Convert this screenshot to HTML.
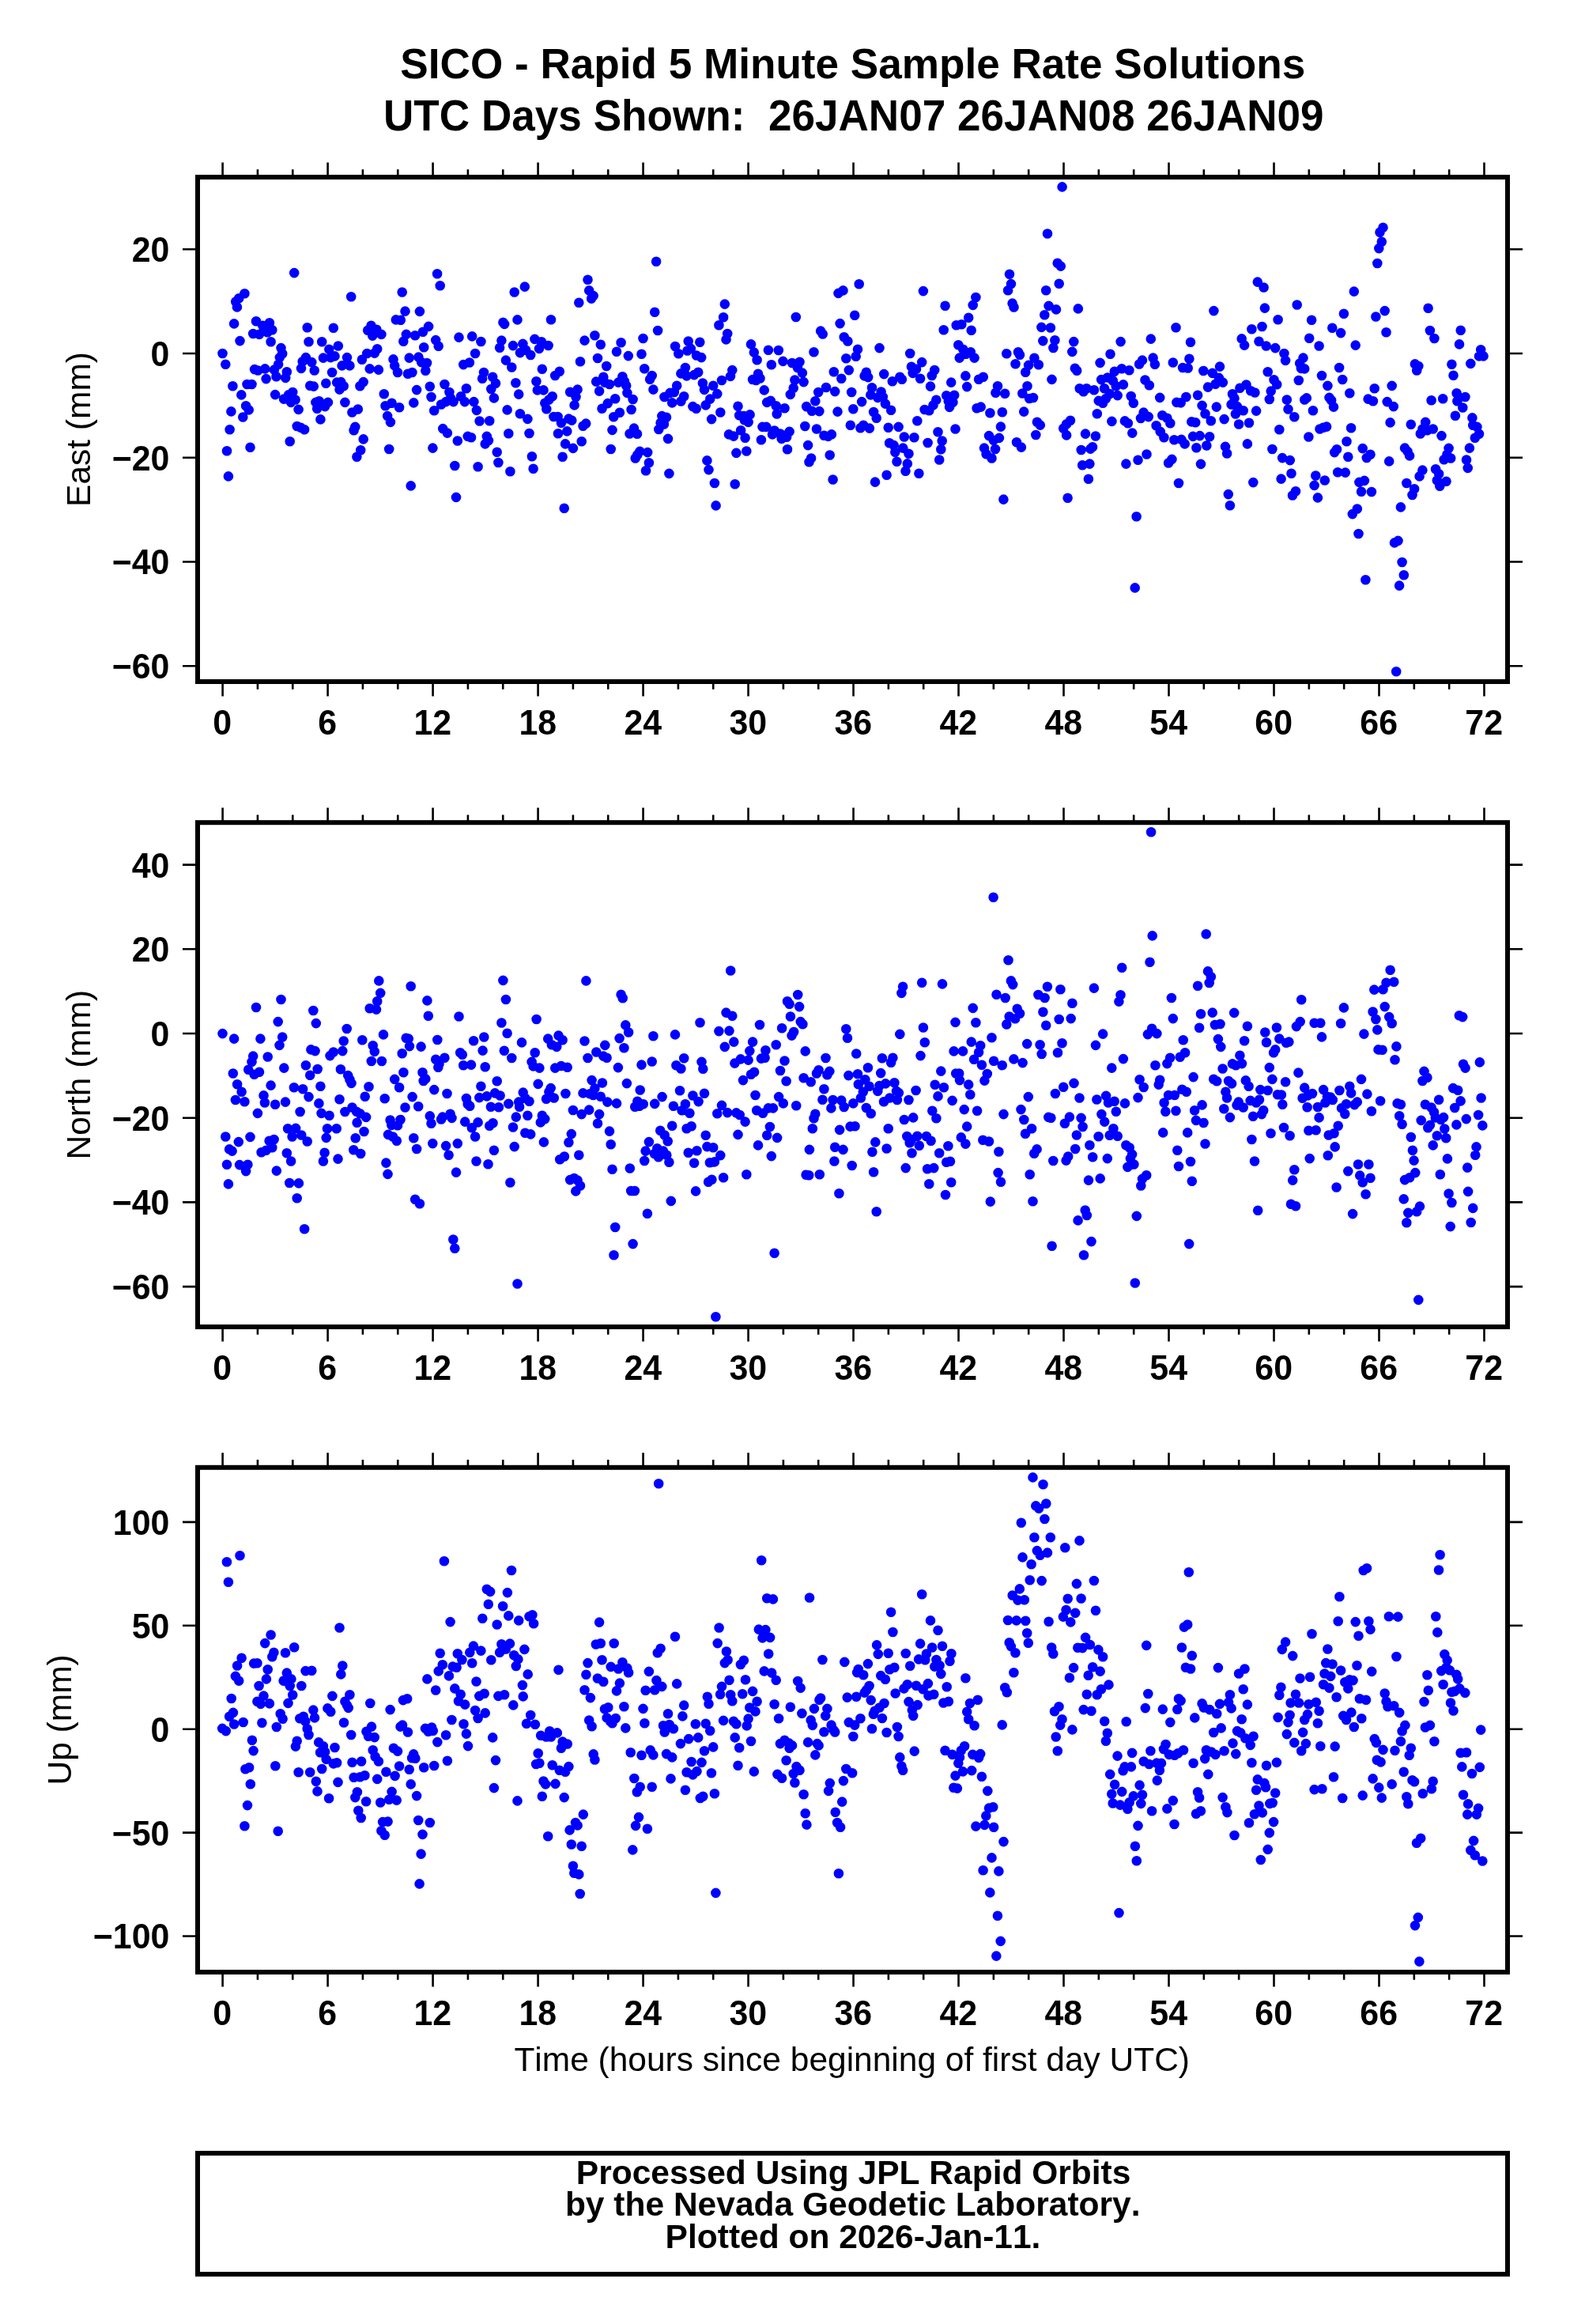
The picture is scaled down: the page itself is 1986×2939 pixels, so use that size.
<!DOCTYPE html>
<html><head><meta charset="utf-8"><title>SICO</title>
<style>
html,body{margin:0;padding:0;background:#fff;}
svg{display:block;will-change:transform;}
text{font-kerning:none;font-family:"Liberation Sans",sans-serif;fill:#000;}
.b{font-weight:bold;}
</style></head><body>
<svg width="1986" height="2939" viewBox="0 0 1986 2939">
<rect width="1986" height="2939" fill="#fff"/>
<text class="b" transform="translate(1078.80 98.90) scale(1 1.02)" font-size="53.12" text-anchor="middle">SICO - Rapid 5 Minute Sample Rate Solutions</text>
<text class="b" transform="translate(1079.80 165.20) scale(1 1.035)" font-size="53.12" text-anchor="middle" xml:space="preserve">UTC Days Shown:  26JAN07 26JAN08 26JAN09</text>
<clipPath id="c0"><rect x="250.0" y="224.0" width="1657.0" height="638.0"/></clipPath>
<path clip-path="url(#c0)" d="M281.5 447.0h.01M285.3 460.7h.01M296.1 409.4h.01M299.9 388.4h.01M298.2 381.5h.01M302.2 377.2h.01M309.4 371.2h.01M303.5 431.1h.01M294.4 488.3h.01M305.3 499.4h.01M292.4 520.4h.01M290.6 543.3h.01M287.0 570.2h.01M288.9 602.4h.01M311.1 513.2h.01M314.7 518.4h.01M307.3 527.5h.01M316.5 565.7h.01M312.5 486.0h.01M318.5 486.0h.01M320.2 422.0h.01M324.0 406.2h.01M328.0 422.9h.01M332.3 411.7h.01M340.9 408.2h.01M344.3 417.2h.01M338.3 420.3h.01M342.6 432.3h.01M322.0 467.1h.01M326.3 468.5h.01M335.2 466.4h.01M336.6 479.1h.01M355.5 440.1h.01M357.2 447.3h.01M353.8 452.1h.01M352.1 460.7h.01M346.9 467.6h.01M349.5 476.2h.01M362.8 470.2h.01M361.2 477.9h.01M348.1 499.1h.01M359.0 504.6h.01M365.0 499.4h.01M370.2 496.0h.01M373.6 505.5h.01M368.1 508.9h.01M377.6 517.9h.01M372.2 345.1h.01M366.7 558.3h.01M375.7 539.0h.01M380.5 540.8h.01M385.1 543.3h.01M388.7 414.3h.01M390.5 432.3h.01M386.9 452.1h.01M382.7 457.3h.01M381.0 465.9h.01M394.3 458.1h.01M397.7 468.5h.01M392.2 487.7h.01M396.8 488.6h.01M399.4 508.9h.01M403.7 507.2h.01M401.1 516.7h.01M405.4 530.4h.01M411.1 514.1h.01M414.9 508.9h.01M407.2 432.3h.01M408.9 452.6h.01M416.3 441.8h.01M418.3 452.1h.01M423.5 450.4h.01M421.8 414.8h.01M427.8 437.5h.01M420.1 471.0h.01M412.3 484.8h.01M426.1 483.6h.01M431.3 483.1h.01M434.7 488.3h.01M429.5 492.6h.01M432.6 462.4h.01M439.0 452.1h.01M442.4 462.4h.01M436.4 508.9h.01M444.2 375.2h.01M445.4 521.5h.01M452.8 517.5h.01M449.3 539.9h.01M447.6 544.2h.01M455.4 488.3h.01M457.9 454.7h.01M459.7 483.1h.01M451.4 577.8h.01M456.2 569.2h.01M459.7 555.4h.01M469.5 411.7h.01M465.2 417.7h.01M471.2 424.6h.01M476.4 416.8h.01M482.4 422.9h.01M477.2 441.3h.01M473.8 446.6h.01M464.3 447.0h.01M467.7 466.4h.01M478.9 467.6h.01M485.8 498.2h.01M487.5 513.2h.01M495.6 509.8h.01M505.1 515.3h.01M490.1 526.1h.01M493.9 533.9h.01M492.2 568.0h.01M508.7 369.5h.01M512.5 393.6h.01M500.8 404.4h.01M506.8 404.8h.01M530.9 393.9h.01M513.9 422.9h.01M510.3 431.8h.01M525.1 424.2h.01M534.9 419.8h.01M542.1 412.9h.01M536.2 439.2h.01M497.5 454.4h.01M499.2 462.4h.01M503.0 471.0h.01M517.7 452.6h.01M529.4 451.6h.01M533.1 458.1h.01M540.0 459.0h.01M538.3 468.8h.01M515.9 472.8h.01M521.4 471.0h.01M527.1 493.1h.01M523.3 509.4h.01M519.7 614.4h.01M543.8 488.8h.01M545.5 502.0h.01M549.2 519.2h.01M547.4 566.6h.01M553.1 346.3h.01M556.7 361.2h.01M551.2 430.1h.01M554.7 437.8h.01M562.4 486.0h.01M568.4 496.0h.01M558.1 511.5h.01M564.1 508.1h.01M570.2 503.8h.01M573.6 508.1h.01M560.2 542.1h.01M565.9 547.6h.01M578.8 557.5h.01M575.3 589.0h.01M577.0 628.9h.01M580.5 426.6h.01M586.2 461.1h.01M593.9 458.5h.01M589.9 491.2h.01M583.1 501.2h.01M587.9 508.1h.01M591.7 551.9h.01M596.0 553.3h.01M597.2 425.4h.01M601.1 447.0h.01M608.4 432.0h.01M599.4 508.1h.01M602.9 518.9h.01M606.6 532.5h.01M604.6 590.3h.01M612.0 471.0h.01M610.1 478.8h.01M623.2 476.7h.01M627.0 484.8h.01M621.3 492.0h.01M624.9 503.4h.01M619.2 532.2h.01M615.8 551.9h.01M618.0 557.1h.01M613.7 561.4h.01M628.7 571.7h.01M630.4 585.0h.01M634.4 430.6h.01M632.1 439.7h.01M636.4 407.7h.01M638.1 409.9h.01M639.9 455.6h.01M647.3 464.5h.01M641.6 518.4h.01M643.3 548.2h.01M645.4 596.2h.01M650.7 369.5h.01M654.5 404.4h.01M649.0 437.1h.01M652.4 484.3h.01M656.2 498.6h.01M657.9 523.2h.01M657.9 446.1h.01M663.8 362.6h.01M661.4 434.9h.01M665.2 442.7h.01M671.2 449.0h.01M676.4 428.9h.01M685.0 432.3h.01M682.0 440.9h.01M693.6 437.0h.01M697.0 404.3h.01M685.8 466.7h.01M678.4 482.2h.01M679.8 493.4h.01M687.5 493.4h.01M698.7 501.2h.01M694.4 505.5h.01M689.3 509.8h.01M691.3 517.2h.01M667.4 529.9h.01M669.5 548.0h.01M672.9 577.2h.01M674.6 592.7h.01M707.8 469.8h.01M702.2 475.0h.01M700.4 527.0h.01M705.6 527.0h.01M709.9 534.7h.01M719.4 529.6h.01M723.3 531.6h.01M717.3 545.4h.01M706.0 548.2h.01M715.1 561.4h.01M724.9 566.9h.01M711.6 577.8h.01M713.7 642.7h.01M721.1 495.7h.01M730.6 492.6h.01M728.5 502.0h.01M726.6 512.4h.01M734.0 457.3h.01M739.5 430.6h.01M732.3 382.8h.01M743.5 353.7h.01M745.2 367.4h.01M750.7 374.1h.01M748.1 377.6h.01M741.2 535.6h.01M737.5 538.7h.01M735.7 558.3h.01M752.4 424.2h.01M759.8 435.8h.01M756.0 453.0h.01M767.2 463.0h.01M763.3 476.7h.01M754.1 482.6h.01M765.0 483.6h.01M771.0 486.0h.01M758.1 494.6h.01M761.5 516.7h.01M768.8 510.1h.01M778.2 504.3h.01M776.2 527.3h.01M783.9 521.8h.01M774.5 543.9h.01M772.7 568.0h.01M780.0 444.7h.01M785.6 433.2h.01M794.8 450.1h.01M787.4 476.2h.01M782.2 483.6h.01M789.9 482.2h.01M792.2 487.7h.01M793.4 496.9h.01M800.6 505.0h.01M798.6 518.0h.01M802.0 541.6h.01M796.5 548.5h.01M806.0 548.8h.01M809.4 570.9h.01M803.7 579.5h.01M806.3 575.2h.01M819.2 572.1h.01M820.9 585.2h.01M817.0 595.3h.01M813.5 428.0h.01M811.5 447.8h.01M815.2 466.2h.01M824.7 475.0h.01M822.1 479.7h.01M826.4 492.6h.01M828.2 394.8h.01M832.1 418.0h.01M830.1 330.8h.01M837.3 526.1h.01M843.0 527.8h.01M835.6 534.7h.01M839.9 536.5h.01M833.3 543.0h.01M845.0 554.9h.01M846.4 598.9h.01M840.4 502.0h.01M847.6 496.9h.01M852.8 496.0h.01M850.2 509.4h.01M856.2 487.7h.01M854.1 438.0h.01M858.3 447.3h.01M866.9 465.0h.01M861.4 472.4h.01M868.6 475.4h.01M865.2 501.2h.01M861.4 507.5h.01M870.7 431.5h.01M873.8 440.9h.01M869.5 443.5h.01M885.3 432.7h.01M881.0 449.5h.01M887.2 452.1h.01M883.2 470.7h.01M878.1 474.1h.01M888.9 484.5h.01M891.0 492.9h.01M876.4 514.1h.01M880.7 516.7h.01M902.2 487.7h.01M907.3 498.1h.01M898.2 504.6h.01M892.7 512.4h.01M911.3 521.5h.01M900.1 530.1h.01M894.4 582.4h.01M896.5 594.1h.01M903.9 611.0h.01M905.6 639.4h.01M913.0 481.0h.01M924.0 475.9h.01M926.3 468.1h.01M916.8 384.6h.01M915.1 401.3h.01M909.4 411.3h.01M920.2 422.0h.01M918.5 429.4h.01M929.7 612.2h.01M933.5 513.7h.01M935.2 525.3h.01M940.9 526.1h.01M948.6 524.4h.01M941.8 531.3h.01M946.6 533.9h.01M937.1 544.2h.01M922.0 549.4h.01M928.0 551.6h.01M942.6 553.7h.01M931.4 572.9h.01M944.3 570.5h.01M950.0 435.4h.01M953.8 445.6h.01M957.6 455.2h.01M959.0 472.8h.01M952.1 480.0h.01M956.4 481.0h.01M961.5 478.5h.01M966.7 493.4h.01M971.9 442.7h.01M975.8 461.2h.01M970.2 508.9h.01M974.8 506.9h.01M981.7 513.2h.01M982.7 523.5h.01M992.5 516.3h.01M964.5 539.9h.01M969.3 539.9h.01M962.9 556.2h.01M979.6 544.5h.01M977.0 549.4h.01M987.0 548.5h.01M988.7 554.9h.01M995.1 552.8h.01M998.6 545.9h.01M996.0 568.3h.01M984.8 443.0h.01M990.5 456.9h.01M1002.0 459.0h.01M1011.5 457.8h.01M1008.9 465.0h.01M1014.9 471.6h.01M1005.4 480.5h.01M1016.6 483.1h.01M1003.7 490.8h.01M999.8 498.9h.01M1006.8 401.0h.01M1029.5 445.2h.01M1038.1 418.6h.01M1040.7 422.5h.01M1020.1 514.1h.01M1027.0 519.8h.01M1036.4 520.1h.01M1031.3 507.2h.01M1035.2 496.0h.01M1045.0 490.0h.01M1018.3 539.0h.01M1033.0 542.5h.01M1022.1 563.1h.01M1026.1 579.5h.01M1023.5 584.3h.01M1042.4 550.7h.01M1047.6 551.9h.01M1051.9 549.4h.01M1049.7 575.5h.01M1053.6 606.5h.01M1054.8 470.2h.01M1056.2 495.1h.01M1060.5 370.9h.01M1066.5 367.4h.01M1086.7 359.2h.01M1062.6 409.1h.01M1081.2 398.8h.01M1067.7 426.3h.01M1072.4 431.5h.01M1085.0 441.8h.01M1082.7 450.7h.01M1070.3 453.3h.01M1073.8 468.1h.01M1064.3 478.8h.01M1077.2 496.0h.01M1059.5 520.6h.01M1079.3 517.2h.01M1090.1 508.1h.01M1075.8 537.8h.01M1088.4 541.3h.01M1092.2 537.7h.01M1099.9 541.6h.01M1095.8 470.7h.01M1093.6 475.4h.01M1098.2 477.1h.01M1103.0 490.3h.01M1101.3 499.4h.01M1114.6 495.5h.01M1110.3 502.9h.01M1116.8 502.0h.01M1119.9 510.6h.01M1127.1 518.7h.01M1105.1 521.0h.01M1108.7 528.7h.01M1112.5 440.1h.01M1118.2 473.1h.01M1128.8 482.2h.01M1138.3 476.7h.01M1140.9 479.7h.01M1123.7 540.8h.01M1136.6 539.9h.01M1143.8 552.5h.01M1156.4 553.3h.01M1125.1 560.2h.01M1130.6 563.1h.01M1132.3 571.7h.01M1142.3 566.6h.01M1149.5 573.8h.01M1134.5 583.8h.01M1147.8 586.4h.01M1145.5 595.8h.01M1162.4 598.8h.01M1121.6 600.7h.01M1107.0 609.6h.01M1151.2 447.0h.01M1152.9 463.8h.01M1159.0 466.7h.01M1154.7 471.9h.01M1166.2 458.1h.01M1164.1 478.8h.01M1160.3 532.2h.01M1167.9 368.1h.01M1182.2 468.0h.01M1178.8 475.0h.01M1177.0 488.6h.01M1184.3 505.8h.01M1180.5 512.4h.01M1169.6 518.0h.01M1175.3 519.2h.01M1173.6 560.0h.01M1186.5 546.3h.01M1191.7 557.5h.01M1190.3 568.3h.01M1188.2 581.5h.01M1195.6 386.7h.01M1193.7 417.3h.01M1203.2 483.6h.01M1197.2 500.3h.01M1207.2 499.8h.01M1199.8 507.2h.01M1205.4 508.9h.01M1201.1 514.9h.01M1208.5 542.5h.01M1209.7 411.2h.01M1216.3 410.3h.01M1225.2 401.7h.01M1228.7 417.7h.01M1230.7 385.9h.01M1234.4 376.0h.01M1212.3 436.3h.01M1218.3 441.8h.01M1213.7 452.6h.01M1221.8 447.8h.01M1227.8 445.2h.01M1232.6 452.6h.01M1221.4 475.4h.01M1223.2 489.1h.01M1238.1 479.7h.01M1243.8 476.7h.01M1235.6 516.3h.01M1240.7 514.6h.01M1252.4 522.2h.01M1251.0 551.1h.01M1245.0 566.6h.01M1247.6 574.3h.01M1254.5 579.5h.01M1343.6 236.4h.01M1325.0 295.5h.01M1337.7 332.7h.01M1341.8 336.6h.01M1339.7 358.7h.01M1323.2 367.3h.01M1277.0 346.8h.01M1279.0 359.1h.01M1275.1 367.3h.01M1280.6 383.6h.01M1282.5 388.5h.01M1326.6 386.9h.01M1336.0 391.4h.01M1321.3 398.3h.01M1363.8 390.4h.01M1317.4 413.9h.01M1328.9 414.5h.01M1319.3 431.1h.01M1334.4 430.2h.01M1332.4 440.0h.01M1358.3 432.1h.01M1356.3 444.9h.01M1273.3 447.2h.01M1288.0 445.2h.01M1290.0 448.8h.01M1284.5 460.3h.01M1308.4 452.7h.01M1313.8 461.3h.01M1301.1 461.9h.01M1297.2 470.7h.01M1330.5 479.9h.01M1359.8 465.8h.01M1362.2 468.7h.01M1262.0 488.3h.01M1271.2 497.7h.01M1259.4 496.7h.01M1299.5 488.3h.01M1293.3 497.5h.01M1302.1 504.0h.01M1307.0 503.0h.01M1267.8 521.2h.01M1295.2 520.6h.01M1265.9 539.6h.01M1263.9 553.9h.01M1259.0 568.0h.01M1311.9 533.7h.01M1315.8 537.6h.01M1310.3 550.0h.01M1286.0 559.2h.01M1291.9 565.6h.01M1269.4 631.6h.01M1350.6 629.7h.01M1354.0 531.8h.01M1349.1 536.3h.01M1345.2 541.8h.01M1349.1 550.4h.01M1365.7 491.2h.01M1370.6 495.2h.01M1374.5 491.2h.01M1383.9 493.2h.01M1373.0 548.6h.01M1385.9 551.5h.01M1382.0 565.3h.01M1379.4 567.6h.01M1367.7 569.0h.01M1369.2 588.2h.01M1378.4 586.6h.01M1376.9 605.8h.01M1391.6 458.9h.01M1404.5 447.8h.01M1417.6 432.1h.01M1393.1 480.1h.01M1401.0 477.5h.01M1409.8 469.7h.01M1419.0 466.2h.01M1428.4 468.3h.01M1407.8 481.5h.01M1397.0 491.2h.01M1411.7 488.3h.01M1420.9 486.4h.01M1403.9 498.1h.01M1413.7 500.1h.01M1399.0 504.0h.01M1389.8 506.9h.01M1395.1 509.8h.01M1387.8 523.2h.01M1406.4 532.9h.01M1422.9 532.4h.01M1426.8 535.3h.01M1432.3 547.6h.01M1430.7 501.0h.01M1433.8 509.8h.01M1424.4 586.6h.01M1439.5 581.7h.01M1450.5 574.5h.01M1437.6 653.3h.01M1445.0 455.6h.01M1441.1 460.5h.01M1455.8 428.6h.01M1448.5 480.5h.01M1453.8 487.3h.01M1446.6 521.6h.01M1443.0 529.0h.01M1452.8 527.1h.01M1458.6 452.6h.01M1460.9 460.7h.01M1467.2 502.9h.01M1462.6 538.2h.01M1467.7 545.9h.01M1472.4 553.3h.01M1470.3 525.3h.01M1476.4 528.7h.01M1480.3 535.2h.01M1487.5 414.3h.01M1483.8 458.5h.01M1506.0 432.7h.01M1504.4 453.8h.01M1496.1 465.0h.01M1502.7 465.5h.01M1500.4 502.0h.01M1488.4 508.9h.01M1493.6 509.4h.01M1485.3 556.2h.01M1494.4 555.9h.01M1498.7 561.4h.01M1482.4 580.9h.01M1478.1 585.5h.01M1491.0 611.0h.01M1515.1 499.8h.01M1520.6 512.9h.01M1524.5 523.2h.01M1531.8 532.2h.01M1507.3 533.4h.01M1512.2 534.2h.01M1509.1 551.9h.01M1517.7 551.1h.01M1530.1 552.3h.01M1513.4 566.2h.01M1526.3 563.5h.01M1519.0 586.9h.01M1522.3 469.0h.01M1533.7 471.9h.01M1543.0 463.6h.01M1541.8 477.9h.01M1546.9 483.6h.01M1537.5 485.7h.01M1528.0 489.6h.01M1538.8 514.6h.01M1535.4 393.1h.01M1548.6 530.1h.01M1550.0 564.9h.01M1552.1 573.5h.01M1553.8 625.1h.01M1555.9 639.2h.01M1559.0 498.2h.01M1561.5 503.8h.01M1557.6 511.5h.01M1565.0 514.1h.01M1572.7 519.2h.01M1562.9 523.5h.01M1567.1 536.5h.01M1580.0 534.7h.01M1568.4 490.8h.01M1576.5 486.5h.01M1582.2 494.3h.01M1587.4 496.5h.01M1589.1 519.6h.01M1577.9 561.4h.01M1585.3 610.1h.01M1570.7 428.4h.01M1574.1 436.6h.01M1583.4 416.3h.01M1596.5 413.0h.01M1590.8 356.6h.01M1598.6 363.5h.01M1599.9 389.6h.01M1592.5 431.8h.01M1601.7 437.5h.01M1613.2 440.1h.01M1616.6 404.3h.01M1624.4 447.0h.01M1626.1 455.9h.01M1603.7 470.2h.01M1611.5 480.2h.01M1615.2 486.2h.01M1607.7 494.6h.01M1605.8 505.0h.01M1627.8 505.5h.01M1629.5 517.5h.01M1637.3 527.3h.01M1618.3 543.3h.01M1609.4 568.0h.01M1622.1 579.1h.01M1631.8 582.1h.01M1633.5 598.8h.01M1620.6 605.6h.01M1639.0 621.3h.01M1635.0 626.5h.01M1640.7 385.5h.01M1648.5 452.6h.01M1644.2 459.5h.01M1650.2 466.4h.01M1645.9 465.9h.01M1642.8 481.0h.01M1652.8 503.4h.01M1650.2 505.5h.01M1655.4 552.5h.01M1656.2 427.7h.01M1659.1 404.8h.01M1668.6 437.5h.01M1685.3 414.8h.01M1696.1 421.1h.01M1699.9 396.7h.01M1712.8 368.6h.01M1714.7 436.6h.01M1672.0 475.0h.01M1679.4 487.9h.01M1694.1 465.0h.01M1698.2 480.0h.01M1707.3 497.2h.01M1681.5 502.9h.01M1684.1 506.3h.01M1687.0 514.6h.01M1660.9 519.2h.01M1669.5 542.5h.01M1673.8 540.8h.01M1678.1 539.6h.01M1709.1 541.3h.01M1703.5 558.3h.01M1691.0 568.3h.01M1688.1 572.1h.01M1705.3 577.8h.01M1692.2 597.2h.01M1701.8 597.6h.01M1664.3 601.5h.01M1675.8 607.5h.01M1662.6 613.9h.01M1666.9 629.4h.01M1723.7 567.1h.01M1733.5 574.8h.01M1728.8 579.0h.01M1719.4 609.9h.01M1725.9 607.9h.01M1722.0 621.7h.01M1734.9 622.0h.01M1716.8 643.5h.01M1710.8 650.1h.01M1718.5 675.0h.01M1749.5 287.7h.01M1745.5 293.8h.01M1747.8 305.8h.01M1744.3 314.1h.01M1742.3 333.0h.01M1751.7 393.1h.01M1740.4 400.5h.01M1753.5 420.3h.01M1738.7 491.2h.01M1760.7 487.9h.01M1730.6 504.6h.01M1736.9 507.2h.01M1754.7 508.1h.01M1762.8 514.1h.01M1758.6 534.4h.01M1757.2 583.4h.01M1771.9 641.4h.01M1784.8 536.8h.01M1777.0 566.6h.01M1780.5 570.9h.01M1783.1 576.4h.01M1779.3 611.0h.01M1789.1 618.2h.01M1786.5 626.0h.01M1789.9 460.4h.01M1794.3 463.0h.01M1792.2 468.5h.01M1806.6 389.8h.01M1808.9 418.0h.01M1814.4 428.0h.01M1803.2 533.9h.01M1799.4 542.5h.01M1796.8 548.5h.01M1805.4 544.2h.01M1812.7 542.5h.01M1810.6 506.3h.01M1825.2 504.3h.01M1823.5 551.1h.01M1799.4 594.6h.01M1795.6 602.4h.01M1816.1 593.3h.01M1820.1 599.3h.01M1817.8 607.5h.01M1829.5 608.7h.01M1821.3 614.8h.01M1832.6 566.9h.01M1830.4 574.8h.01M1826.6 581.2h.01M1835.2 579.5h.01M1836.4 460.7h.01M1838.5 474.8h.01M1847.7 417.7h.01M1846.0 435.4h.01M1873.2 442.3h.01M1871.0 450.4h.01M1876.5 450.4h.01M1860.3 459.9h.01M1842.6 497.2h.01M1853.4 502.0h.01M1843.4 507.2h.01M1850.3 515.5h.01M1840.9 525.8h.01M1862.4 528.4h.01M1863.2 537.7h.01M1868.4 539.9h.01M1871.0 548.8h.01M1865.8 553.7h.01M1858.9 566.6h.01M1855.0 581.5h.01M1856.7 591.9h.01M1435.7 743.4h.01M1764.0 686.4h.01M1768.5 683.9h.01M1773.6 711.0h.01M1775.8 727.2h.01M1770.1 740.6h.01M1727.4 733.2h.01M1766.2 849.2h.01M1256.8 556.7h.01" stroke="#0000ff" stroke-width="12.6" stroke-linecap="round" fill="none"/>
<path d="M281.60 224.0v-18.6M281.60 862.0v18.6M325.93 224.0v-9.8M325.93 862.0v9.8M370.26 224.0v-9.8M370.26 862.0v9.8M414.59 224.0v-18.6M414.59 862.0v18.6M458.92 224.0v-9.8M458.92 862.0v9.8M503.25 224.0v-9.8M503.25 862.0v9.8M547.58 224.0v-18.6M547.58 862.0v18.6M591.91 224.0v-9.8M591.91 862.0v9.8M636.24 224.0v-9.8M636.24 862.0v9.8M680.57 224.0v-18.6M680.57 862.0v18.6M724.90 224.0v-9.8M724.90 862.0v9.8M769.23 224.0v-9.8M769.23 862.0v9.8M813.56 224.0v-18.6M813.56 862.0v18.6M857.89 224.0v-9.8M857.89 862.0v9.8M902.22 224.0v-9.8M902.22 862.0v9.8M946.55 224.0v-18.6M946.55 862.0v18.6M990.88 224.0v-9.8M990.88 862.0v9.8M1035.21 224.0v-9.8M1035.21 862.0v9.8M1079.54 224.0v-18.6M1079.54 862.0v18.6M1123.87 224.0v-9.8M1123.87 862.0v9.8M1168.20 224.0v-9.8M1168.20 862.0v9.8M1212.53 224.0v-18.6M1212.53 862.0v18.6M1256.86 224.0v-9.8M1256.86 862.0v9.8M1301.19 224.0v-9.8M1301.19 862.0v9.8M1345.52 224.0v-18.6M1345.52 862.0v18.6M1389.85 224.0v-9.8M1389.85 862.0v9.8M1434.18 224.0v-9.8M1434.18 862.0v9.8M1478.51 224.0v-18.6M1478.51 862.0v18.6M1522.84 224.0v-9.8M1522.84 862.0v9.8M1567.17 224.0v-9.8M1567.17 862.0v9.8M1611.50 224.0v-18.6M1611.50 862.0v18.6M1655.83 224.0v-9.8M1655.83 862.0v9.8M1700.16 224.0v-9.8M1700.16 862.0v9.8M1744.49 224.0v-18.6M1744.49 862.0v18.6M1788.82 224.0v-9.8M1788.82 862.0v9.8M1833.15 224.0v-9.8M1833.15 862.0v9.8M1877.48 224.0v-18.6M1877.48 862.0v18.6M250.0 315.26h-19M1907.0 315.26h19M250.0 447.00h-19M1907.0 447.00h19M250.0 578.74h-19M1907.0 578.74h19M250.0 710.48h-19M1907.0 710.48h19M250.0 842.22h-19M1907.0 842.22h19" stroke="#000" stroke-width="2.6" fill="none"/>
<rect x="250.0" y="224.0" width="1657.0" height="638.0" fill="none" stroke="#000" stroke-width="6.0"/>
<text class="b" transform="translate(281.30 928.60) scale(1 1.03)" font-size="42.9" text-anchor="middle">0</text>
<text class="b" transform="translate(414.29 928.60) scale(1 1.03)" font-size="42.9" text-anchor="middle">6</text>
<text class="b" transform="translate(547.28 928.60) scale(1 1.03)" font-size="42.9" text-anchor="middle">12</text>
<text class="b" transform="translate(680.27 928.60) scale(1 1.03)" font-size="42.9" text-anchor="middle">18</text>
<text class="b" transform="translate(813.26 928.60) scale(1 1.03)" font-size="42.9" text-anchor="middle">24</text>
<text class="b" transform="translate(946.25 928.60) scale(1 1.03)" font-size="42.9" text-anchor="middle">30</text>
<text class="b" transform="translate(1079.24 928.60) scale(1 1.03)" font-size="42.9" text-anchor="middle">36</text>
<text class="b" transform="translate(1212.23 928.60) scale(1 1.03)" font-size="42.9" text-anchor="middle">42</text>
<text class="b" transform="translate(1345.22 928.60) scale(1 1.03)" font-size="42.9" text-anchor="middle">48</text>
<text class="b" transform="translate(1478.21 928.60) scale(1 1.03)" font-size="42.9" text-anchor="middle">54</text>
<text class="b" transform="translate(1611.20 928.60) scale(1 1.03)" font-size="42.9" text-anchor="middle">60</text>
<text class="b" transform="translate(1744.19 928.60) scale(1 1.03)" font-size="42.9" text-anchor="middle">66</text>
<text class="b" transform="translate(1877.18 928.60) scale(1 1.03)" font-size="42.9" text-anchor="middle">72</text>
<text class="b" transform="translate(214.40 331.16) scale(1 1.03)" font-size="42.9" text-anchor="end">20</text>
<text class="b" transform="translate(214.40 462.90) scale(1 1.03)" font-size="42.9" text-anchor="end">0</text>
<text class="b" transform="translate(214.40 594.64) scale(1 1.03)" font-size="42.9" text-anchor="end">−20</text>
<text class="b" transform="translate(214.40 726.38) scale(1 1.03)" font-size="42.9" text-anchor="end">−40</text>
<text class="b" transform="translate(214.40 858.12) scale(1 1.03)" font-size="42.9" text-anchor="end">−60</text>
<text transform="translate(114.10 543.00) rotate(-90) scale(1 1.015)" font-size="42.5" text-anchor="middle">East (mm)</text>
<clipPath id="c1"><rect x="250.0" y="1040.2" width="1657.0" height="637.8"/></clipPath>
<path clip-path="url(#c1)" d="M281.5 1307.1h.01M296.1 1313.6h.01M294.8 1357.5h.01M300.1 1371.3h.01M305.6 1380.7h.01M297.9 1391.0h.01M309.4 1393.3h.01M285.3 1437.5h.01M301.8 1444.1h.01M290.1 1453.4h.01M293.6 1455.6h.01M287.0 1472.8h.01M303.0 1473.1h.01M313.4 1472.8h.01M311.1 1481.1h.01M288.9 1497.4h.01M316.5 1437.9h.01M324.0 1274.0h.01M329.4 1313.6h.01M320.2 1335.6h.01M318.5 1342.9h.01M314.2 1352.7h.01M321.6 1358.7h.01M328.0 1355.8h.01M338.7 1336.5h.01M342.6 1372.6h.01M333.5 1385.4h.01M334.9 1394.5h.01M325.9 1407.9h.01M348.1 1396.7h.01M361.0 1393.6h.01M340.6 1442.7h.01M346.6 1441.0h.01M344.3 1451.3h.01M336.6 1454.7h.01M330.6 1457.3h.01M349.8 1480.6h.01M355.5 1264.0h.01M351.7 1292.1h.01M357.2 1311.5h.01M353.5 1321.9h.01M359.3 1350.6h.01M371.9 1375.2h.01M383.1 1377.3h.01M390.5 1387.1h.01M379.6 1406.0h.01M364.1 1427.2h.01M374.1 1426.9h.01M369.6 1437.5h.01M381.3 1435.5h.01M388.7 1443.5h.01M362.8 1458.2h.01M368.1 1468.5h.01M366.2 1496.0h.01M377.9 1496.4h.01M375.7 1515.3h.01M385.1 1554.2h.01M396.3 1278.0h.01M399.8 1294.1h.01M393.4 1327.4h.01M398.6 1329.1h.01M386.9 1347.2h.01M392.2 1359.7h.01M401.7 1352.0h.01M405.4 1373.8h.01M403.4 1395.4h.01M406.6 1407.9h.01M416.6 1410.8h.01M414.0 1427.2h.01M425.7 1427.2h.01M412.7 1438.9h.01M410.6 1457.7h.01M408.9 1468.5h.01M427.5 1465.6h.01M417.5 1335.1h.01M421.8 1330.5h.01M433.3 1329.1h.01M434.7 1316.5h.01M438.7 1301.0h.01M430.9 1352.3h.01M440.2 1360.1h.01M442.4 1365.2h.01M444.5 1369.9h.01M429.5 1390.2h.01M436.4 1406.0h.01M445.5 1400.5h.01M451.0 1405.7h.01M455.4 1408.3h.01M451.6 1419.8h.01M449.7 1439.2h.01M447.3 1454.2h.01M456.2 1459.0h.01M458.3 1315.3h.01M461.7 1386.7h.01M463.1 1412.9h.01M460.5 1431.0h.01M466.5 1374.2h.01M479.3 1240.4h.01M481.2 1255.9h.01M477.2 1266.3h.01M467.7 1275.2h.01M476.0 1276.6h.01M485.0 1308.4h.01M471.7 1322.2h.01M473.8 1329.9h.01M469.8 1342.0h.01M482.9 1342.0h.01M486.7 1389.3h.01M493.6 1416.5h.01M495.3 1422.9h.01M503.0 1423.2h.01M506.5 1416.0h.01M491.0 1434.9h.01M497.0 1437.5h.01M501.8 1442.7h.01M488.4 1470.6h.01M490.5 1484.9h.01M519.7 1247.3h.01M513.7 1312.7h.01M516.8 1313.6h.01M518.0 1323.1h.01M508.7 1332.2h.01M510.4 1356.3h.01M499.2 1364.9h.01M505.1 1375.2h.01M521.6 1387.1h.01M512.5 1400.5h.01M529.2 1399.3h.01M523.3 1439.2h.01M527.1 1453.0h.01M525.1 1516.7h.01M530.9 1522.2h.01M540.4 1265.4h.01M541.8 1284.7h.01M532.6 1323.6h.01M534.5 1356.3h.01M538.3 1364.4h.01M535.7 1367.0h.01M549.2 1378.1h.01M543.8 1411.4h.01M545.5 1420.8h.01M547.3 1446.1h.01M553.3 1315.0h.01M551.2 1339.8h.01M562.4 1337.7h.01M555.5 1345.4h.01M554.3 1349.7h.01M565.5 1383.0h.01M559.8 1412.6h.01M558.1 1415.5h.01M569.6 1408.8h.01M571.5 1413.9h.01M564.1 1449.1h.01M567.6 1460.8h.01M577.0 1482.6h.01M573.3 1567.5h.01M575.3 1578.7h.01M580.5 1285.5h.01M582.2 1331.2h.01M584.8 1333.7h.01M586.2 1347.2h.01M596.0 1346.6h.01M589.9 1389.0h.01M591.7 1396.2h.01M594.3 1398.8h.01M588.2 1418.6h.01M596.8 1426.3h.01M604.6 1419.4h.01M601.1 1437.5h.01M578.8 1446.1h.01M602.5 1468.5h.01M599.1 1316.2h.01M612.3 1311.5h.01M610.6 1328.6h.01M613.7 1349.2h.01M608.4 1373.8h.01M606.3 1388.1h.01M615.8 1386.4h.01M620.9 1399.7h.01M630.9 1400.2h.01M628.7 1367.3h.01M626.1 1382.4h.01M632.6 1385.5h.01M623.5 1420.3h.01M619.2 1423.8h.01M624.9 1454.7h.01M617.5 1472.3h.01M636.4 1239.9h.01M639.9 1264.0h.01M634.4 1293.5h.01M641.6 1306.7h.01M637.8 1328.7h.01M647.3 1338.0h.01M643.3 1395.9h.01M652.8 1412.6h.01M649.0 1425.5h.01M650.7 1450.1h.01M645.4 1495.5h.01M656.2 1393.6h.01M657.1 1399.7h.01M660.0 1318.4h.01M661.7 1381.6h.01M664.3 1388.8h.01M669.5 1392.8h.01M667.4 1410.8h.01M664.3 1432.7h.01M671.2 1434.4h.01M678.6 1289.0h.01M676.7 1331.3h.01M672.6 1342.9h.01M674.6 1348.4h.01M682.4 1350.6h.01M680.7 1370.9h.01M685.8 1410.8h.01M689.3 1415.1h.01M683.8 1419.4h.01M687.9 1444.4h.01M693.2 1313.6h.01M697.9 1321.3h.01M704.2 1323.9h.01M706.5 1309.6h.01M711.6 1315.3h.01M702.2 1350.6h.01M709.9 1348.0h.01M717.7 1349.7h.01M696.7 1376.1h.01M694.4 1380.7h.01M691.0 1389.8h.01M700.8 1388.5h.01M715.4 1383.0h.01M722.8 1434.1h.01M719.4 1444.8h.01M708.2 1466.3h.01M713.9 1462.5h.01M732.3 1460.8h.01M724.9 1404.0h.01M735.7 1409.1h.01M745.2 1403.6h.01M721.1 1492.1h.01M726.3 1490.0h.01M730.6 1492.6h.01M734.0 1499.5h.01M728.3 1506.4h.01M741.4 1240.4h.01M739.5 1316.5h.01M743.5 1338.0h.01M754.3 1330.5h.01M763.3 1335.6h.01M767.6 1337.7h.01M765.3 1321.9h.01M748.6 1366.1h.01M761.9 1369.5h.01M752.4 1376.4h.01M737.5 1382.4h.01M746.1 1383.3h.01M750.4 1385.0h.01M759.8 1386.7h.01M768.4 1393.6h.01M780.0 1395.4h.01M758.1 1409.1h.01M756.0 1420.8h.01M771.0 1430.6h.01M772.7 1447.3h.01M774.5 1478.8h.01M778.2 1552.0h.01M776.5 1587.3h.01M785.6 1257.7h.01M787.7 1262.3h.01M791.3 1296.4h.01M795.1 1305.5h.01M783.6 1313.1h.01M789.4 1325.3h.01M781.9 1350.1h.01M792.9 1370.1h.01M796.8 1477.5h.01M798.2 1506.0h.01M802.9 1506.0h.01M800.6 1573.1h.01M811.5 1346.6h.01M824.7 1342.5h.01M809.7 1378.5h.01M806.3 1392.8h.01M803.2 1399.7h.01M808.9 1398.8h.01M813.7 1396.2h.01M828.2 1395.9h.01M826.4 1310.2h.01M837.6 1387.1h.01M820.9 1444.1h.01M816.6 1455.6h.01M815.2 1468.0h.01M818.9 1534.8h.01M835.2 1429.8h.01M840.7 1435.5h.01M844.7 1443.2h.01M831.3 1452.2h.01M827.8 1459.0h.01M833.0 1463.3h.01M839.0 1455.6h.01M843.3 1460.8h.01M846.4 1469.7h.01M850.2 1423.8h.01M851.9 1398.8h.01M854.0 1308.4h.01M855.4 1347.2h.01M848.8 1518.9h.01M865.2 1338.2h.01M861.4 1351.5h.01M860.0 1379.3h.01M866.9 1396.2h.01M862.6 1404.3h.01M872.4 1407.7h.01M876.4 1385.5h.01M883.6 1393.1h.01M891.0 1382.8h.01M868.6 1427.2h.01M874.6 1424.3h.01M870.7 1457.8h.01M881.5 1455.2h.01M878.1 1470.7h.01M880.1 1506.4h.01M885.5 1293.3h.01M887.5 1342.9h.01M889.3 1351.8h.01M892.7 1435.8h.01M894.4 1450.1h.01M902.2 1451.3h.01M911.3 1461.1h.01M897.9 1470.2h.01M903.9 1469.4h.01M896.1 1494.7h.01M900.4 1491.7h.01M915.1 1489.2h.01M909.4 1304.1h.01M922.5 1303.6h.01M918.5 1280.6h.01M926.3 1284.7h.01M924.2 1227.5h.01M928.3 1317.6h.01M916.8 1323.9h.01M913.0 1397.9h.01M907.3 1408.3h.01M920.2 1407.1h.01M931.4 1407.4h.01M935.7 1410.0h.01M942.6 1418.6h.01M933.5 1434.9h.01M929.4 1344.6h.01M936.9 1339.4h.01M946.6 1340.6h.01M948.3 1329.1h.01M952.1 1317.6h.01M940.0 1366.1h.01M950.0 1358.7h.01M954.1 1355.8h.01M944.3 1485.2h.01M961.0 1296.0h.01M968.4 1328.2h.01M962.9 1338.6h.01M967.6 1337.7h.01M955.5 1385.0h.01M957.2 1404.3h.01M965.0 1407.7h.01M971.9 1401.4h.01M977.9 1401.4h.01M959.0 1448.4h.01M973.9 1425.0h.01M970.2 1435.8h.01M983.1 1438.9h.01M975.8 1462.1h.01M979.6 1584.7h.01M981.7 1321.3h.01M989.1 1300.2h.01M992.5 1341.5h.01M987.0 1354.0h.01M994.6 1367.3h.01M985.1 1387.1h.01M990.8 1395.4h.01M1007.2 1398.3h.01M996.0 1266.3h.01M998.6 1269.7h.01M1009.2 1258.0h.01M1011.1 1273.1h.01M999.9 1285.5h.01M1012.7 1292.1h.01M1015.4 1295.2h.01M1004.1 1305.0h.01M1001.5 1309.6h.01M1018.7 1329.4h.01M1016.6 1363.2h.01M1025.7 1368.2h.01M1033.0 1357.5h.01M1035.6 1353.2h.01M1044.5 1338.0h.01M1046.4 1359.2h.01M1049.3 1354.9h.01M1042.4 1377.3h.01M1040.4 1390.7h.01M1031.3 1408.8h.01M1029.5 1414.3h.01M1027.8 1427.2h.01M1023.9 1453.9h.01M1019.6 1485.7h.01M1023.2 1486.2h.01M1036.8 1485.2h.01M1053.6 1391.0h.01M1051.4 1401.4h.01M1055.4 1468.5h.01M1056.2 1450.8h.01M1064.3 1391.6h.01M1067.7 1400.0h.01M1062.1 1428.9h.01M1066.5 1453.9h.01M1061.4 1509.3h.01M1070.3 1301.2h.01M1072.0 1312.7h.01M1083.2 1332.5h.01M1073.4 1360.1h.01M1085.0 1358.3h.01M1079.3 1395.4h.01M1075.5 1424.6h.01M1081.5 1424.3h.01M1077.7 1474.0h.01M1097.9 1350.3h.01M1094.4 1365.2h.01M1085.8 1371.3h.01M1099.6 1373.8h.01M1091.8 1380.7h.01M1088.9 1388.5h.01M1095.8 1401.0h.01M1101.7 1408.3h.01M1107.3 1444.4h.01M1103.4 1456.8h.01M1105.1 1482.3h.01M1108.7 1532.2h.01M1115.9 1338.2h.01M1129.4 1337.7h.01M1127.1 1343.7h.01M1114.2 1357.1h.01M1120.2 1370.4h.01M1112.5 1373.0h.01M1110.3 1379.9h.01M1131.4 1369.2h.01M1134.0 1379.9h.01M1136.9 1382.1h.01M1125.4 1388.5h.01M1118.0 1393.3h.01M1134.9 1391.0h.01M1123.7 1427.2h.01M1121.6 1452.5h.01M1142.1 1247.8h.01M1140.4 1255.9h.01M1138.3 1307.9h.01M1158.6 1379.0h.01M1149.5 1391.0h.01M1143.8 1416.0h.01M1155.2 1413.4h.01M1147.3 1437.0h.01M1152.9 1441.0h.01M1150.7 1445.3h.01M1160.3 1436.7h.01M1162.8 1448.7h.01M1153.5 1458.2h.01M1145.7 1477.1h.01M1166.2 1242.7h.01M1167.9 1299.5h.01M1169.8 1318.2h.01M1164.5 1335.1h.01M1171.9 1437.0h.01M1177.6 1442.7h.01M1173.1 1478.3h.01M1181.3 1477.1h.01M1175.3 1497.2h.01M1179.3 1404.8h.01M1184.4 1414.3h.01M1182.7 1371.8h.01M1193.9 1375.2h.01M1186.5 1386.4h.01M1190.3 1354.6h.01M1192.0 1244.4h.01M1188.2 1458.2h.01M1199.4 1449.2h.01M1197.2 1469.7h.01M1202.0 1468.8h.01M1203.2 1495.2h.01M1196.0 1511.0h.01M1208.5 1292.9h.01M1206.6 1329.4h.01M1218.0 1329.4h.01M1209.2 1357.5h.01M1213.2 1357.5h.01M1214.0 1366.1h.01M1204.6 1391.9h.01M1225.2 1371.6h.01M1227.3 1384.2h.01M1219.7 1403.1h.01M1236.1 1404.8h.01M1223.2 1424.6h.01M1215.8 1438.4h.01M1221.4 1446.6h.01M1230.7 1274.9h.01M1234.4 1293.3h.01M1228.7 1317.6h.01M1240.2 1322.2h.01M1238.1 1330.8h.01M1232.1 1339.8h.01M1241.9 1346.8h.01M1248.8 1358.0h.01M1245.4 1366.6h.01M1243.3 1441.8h.01M1251.0 1443.5h.01M1254.5 1312.2h.01M1252.8 1519.6h.01M1257.1 1341.7h.01M1260.5 1257.7h.01M1271.7 1262.0h.01M1267.7 1347.2h.01M1263.4 1456.5h.01M1262.6 1483.1h.01M1266.0 1494.8h.01M1269.5 1409.1h.01M1275.5 1214.3h.01M1278.9 1240.4h.01M1281.2 1245.1h.01M1286.7 1275.7h.01M1290.1 1281.8h.01M1276.7 1285.5h.01M1284.1 1288.3h.01M1273.3 1295.5h.01M1282.4 1339.4h.01M1293.6 1344.1h.01M1299.2 1320.1h.01M1300.8 1387.1h.01M1291.5 1403.1h.01M1295.3 1416.0h.01M1305.1 1427.2h.01M1297.0 1433.7h.01M1311.6 1453.4h.01M1308.2 1458.7h.01M1302.7 1485.2h.01M1306.5 1519.3h.01M1313.4 1258.0h.01M1321.6 1262.0h.01M1324.9 1247.8h.01M1319.4 1279.7h.01M1323.2 1296.7h.01M1315.6 1321.3h.01M1317.7 1333.0h.01M1341.4 1251.3h.01M1339.7 1289.0h.01M1343.5 1319.3h.01M1338.0 1331.3h.01M1334.9 1383.0h.01M1345.2 1374.7h.01M1326.3 1412.9h.01M1329.4 1413.8h.01M1332.3 1468.0h.01M1330.6 1575.7h.01M1356.4 1268.8h.01M1354.7 1288.1h.01M1358.5 1369.9h.01M1365.5 1388.5h.01M1352.9 1412.6h.01M1346.9 1420.8h.01M1367.6 1413.9h.01M1369.6 1425.0h.01M1361.9 1435.5h.01M1360.2 1453.0h.01M1351.2 1462.5h.01M1348.6 1467.6h.01M1372.7 1530.5h.01M1374.8 1537.0h.01M1363.6 1543.4h.01M1371.0 1587.3h.01M1380.5 1570.1h.01M1383.9 1249.6h.01M1386.0 1321.9h.01M1395.1 1307.6h.01M1387.4 1390.5h.01M1393.4 1409.1h.01M1397.2 1418.6h.01M1389.6 1437.2h.01M1378.4 1448.2h.01M1382.2 1463.3h.01M1377.0 1492.6h.01M1391.7 1490.4h.01M1399.1 1385.9h.01M1402.0 1394.5h.01M1409.7 1392.8h.01M1411.8 1405.7h.01M1408.4 1427.2h.01M1403.7 1435.8h.01M1413.7 1436.7h.01M1400.8 1465.1h.01M1406.3 1350.6h.01M1420.9 1339.1h.01M1423.0 1395.4h.01M1419.2 1223.8h.01M1417.5 1258.2h.01M1415.4 1266.6h.01M1424.4 1448.2h.01M1428.7 1451.3h.01M1432.1 1459.9h.01M1429.9 1465.1h.01M1434.4 1472.5h.01M1426.4 1475.9h.01M1441.6 1365.2h.01M1446.7 1375.0h.01M1439.5 1388.1h.01M1437.8 1537.9h.01M1450.2 1486.2h.01M1445.0 1490.9h.01M1443.3 1499.5h.01M1454.5 1216.7h.01M1451.9 1308.1h.01M1457.1 1300.7h.01M1463.4 1307.1h.01M1461.4 1347.2h.01M1467.2 1365.7h.01M1465.7 1371.6h.01M1481.9 1262.0h.01M1483.8 1288.1h.01M1480.1 1337.7h.01M1476.4 1345.1h.01M1478.1 1385.0h.01M1485.8 1385.0h.01M1472.6 1394.5h.01M1474.3 1405.7h.01M1487.5 1404.8h.01M1471.2 1432.4h.01M1496.7 1315.3h.01M1499.1 1331.3h.01M1492.7 1336.8h.01M1495.3 1377.8h.01M1500.8 1380.7h.01M1489.3 1454.7h.01M1491.0 1475.0h.01M1502.2 1432.4h.01M1506.0 1469.0h.01M1507.8 1493.8h.01M1504.2 1573.1h.01M1515.1 1246.8h.01M1519.0 1282.3h.01M1517.1 1299.8h.01M1509.6 1362.1h.01M1520.6 1397.4h.01M1511.1 1404.3h.01M1513.0 1416.9h.01M1522.5 1420.0h.01M1524.5 1446.5h.01M1528.0 1228.4h.01M1531.8 1235.3h.01M1529.7 1243.0h.01M1533.7 1280.6h.01M1536.9 1296.0h.01M1543.5 1295.0h.01M1540.9 1314.1h.01M1544.3 1323.9h.01M1535.2 1364.7h.01M1539.2 1367.3h.01M1546.6 1351.5h.01M1550.4 1380.7h.01M1552.1 1388.5h.01M1548.3 1402.2h.01M1555.9 1413.1h.01M1561.2 1280.9h.01M1554.1 1367.0h.01M1558.1 1370.4h.01M1559.0 1345.4h.01M1563.3 1347.2h.01M1571.0 1345.1h.01M1568.4 1334.8h.01M1566.7 1393.6h.01M1564.5 1397.6h.01M1572.7 1400.5h.01M1574.1 1316.2h.01M1577.9 1297.8h.01M1575.8 1366.4h.01M1579.6 1373.8h.01M1581.7 1391.9h.01M1589.1 1394.5h.01M1593.0 1390.7h.01M1585.1 1411.7h.01M1596.0 1409.1h.01M1598.2 1404.3h.01M1583.4 1441.0h.01M1587.0 1468.5h.01M1591.2 1530.8h.01M1594.3 1378.1h.01M1603.7 1379.0h.01M1600.3 1305.5h.01M1602.0 1318.2h.01M1605.8 1350.1h.01M1609.4 1364.9h.01M1607.5 1433.2h.01M1614.9 1299.5h.01M1618.3 1313.6h.01M1613.2 1327.4h.01M1611.1 1331.2h.01M1627.0 1318.8h.01M1630.4 1317.6h.01M1626.1 1368.3h.01M1616.1 1384.2h.01M1620.9 1384.5h.01M1622.3 1396.7h.01M1624.0 1426.0h.01M1631.6 1436.3h.01M1637.3 1479.3h.01M1635.2 1492.6h.01M1633.0 1522.7h.01M1639.0 1525.3h.01M1644.7 1292.1h.01M1639.9 1298.1h.01M1646.2 1264.2h.01M1642.4 1356.6h.01M1650.2 1375.6h.01M1647.6 1388.8h.01M1654.5 1385.4h.01M1653.6 1400.2h.01M1655.4 1429.8h.01M1656.7 1465.1h.01M1662.6 1293.8h.01M1670.3 1293.8h.01M1672.0 1311.4h.01M1660.0 1383.0h.01M1674.1 1378.1h.01M1666.9 1400.0h.01M1668.6 1413.4h.01M1664.6 1429.3h.01M1678.9 1386.7h.01M1683.2 1387.6h.01M1685.8 1391.0h.01M1676.4 1394.5h.01M1694.4 1379.0h.01M1707.3 1373.8h.01M1709.1 1382.4h.01M1699.9 1274.4h.01M1696.1 1294.3h.01M1703.0 1396.2h.01M1697.0 1401.4h.01M1701.3 1408.8h.01M1713.4 1397.1h.01M1716.8 1393.6h.01M1692.7 1423.8h.01M1687.5 1433.2h.01M1680.7 1435.5h.01M1688.7 1450.4h.01M1679.8 1461.3h.01M1690.6 1501.5h.01M1705.3 1481.1h.01M1711.1 1535.1h.01M1722.0 1364.9h.01M1729.4 1383.6h.01M1734.9 1405.2h.01M1725.4 1307.6h.01M1718.0 1472.5h.01M1731.4 1472.5h.01M1720.2 1486.6h.01M1733.5 1489.7h.01M1723.7 1495.2h.01M1727.6 1510.3h.01M1738.3 1251.6h.01M1749.5 1251.3h.01M1753.5 1242.7h.01M1763.3 1241.7h.01M1758.6 1226.7h.01M1736.6 1279.5h.01M1740.4 1289.0h.01M1751.7 1273.1h.01M1757.2 1286.1h.01M1760.7 1294.3h.01M1742.3 1302.4h.01M1743.5 1327.4h.01M1748.6 1327.7h.01M1766.4 1323.4h.01M1764.5 1340.3h.01M1746.1 1392.3h.01M1767.6 1395.4h.01M1771.9 1396.7h.01M1770.2 1411.2h.01M1773.6 1421.7h.01M1784.8 1438.0h.01M1786.9 1454.7h.01M1788.6 1467.6h.01M1790.3 1483.1h.01M1783.1 1489.2h.01M1777.0 1492.1h.01M1775.7 1516.4h.01M1781.3 1533.9h.01M1779.3 1546.3h.01M1792.2 1532.2h.01M1796.0 1525.6h.01M1801.5 1354.9h.01M1805.4 1362.7h.01M1799.4 1367.0h.01M1802.9 1396.7h.01M1810.6 1400.5h.01M1814.0 1406.5h.01M1797.7 1416.9h.01M1815.8 1413.4h.01M1808.9 1422.9h.01M1806.3 1426.3h.01M1820.1 1390.7h.01M1826.1 1413.1h.01M1822.7 1416.0h.01M1827.3 1427.5h.01M1817.8 1436.3h.01M1829.2 1439.2h.01M1812.7 1448.4h.01M1830.9 1465.4h.01M1821.8 1485.2h.01M1832.6 1509.5h.01M1836.4 1521.0h.01M1834.7 1551.1h.01M1838.1 1376.1h.01M1844.2 1378.7h.01M1847.6 1392.4h.01M1840.2 1401.0h.01M1842.4 1422.4h.01M1845.9 1284.3h.01M1850.2 1286.1h.01M1851.0 1345.8h.01M1853.6 1350.6h.01M1854.8 1415.1h.01M1856.2 1476.6h.01M1857.1 1506.9h.01M1871.8 1343.4h.01M1873.6 1388.5h.01M1870.1 1410.0h.01M1875.3 1423.4h.01M1867.5 1450.4h.01M1866.2 1460.8h.01M1863.2 1527.9h.01M1860.7 1546.0h.01M1456.1 1052.3h.01M1256.6 1134.7h.01M1457.7 1183.4h.01M1525.7 1181.3h.01M654.5 1623.5h.01M905.4 1665.3h.01M1435.8 1622.5h.01M1794.3 1643.9h.01" stroke="#0000ff" stroke-width="12.6" stroke-linecap="round" fill="none"/>
<path d="M281.60 1040.2v-18.6M281.60 1678.0v18.6M325.93 1040.2v-9.8M325.93 1678.0v9.8M370.26 1040.2v-9.8M370.26 1678.0v9.8M414.59 1040.2v-18.6M414.59 1678.0v18.6M458.92 1040.2v-9.8M458.92 1678.0v9.8M503.25 1040.2v-9.8M503.25 1678.0v9.8M547.58 1040.2v-18.6M547.58 1678.0v18.6M591.91 1040.2v-9.8M591.91 1678.0v9.8M636.24 1040.2v-9.8M636.24 1678.0v9.8M680.57 1040.2v-18.6M680.57 1678.0v18.6M724.90 1040.2v-9.8M724.90 1678.0v9.8M769.23 1040.2v-9.8M769.23 1678.0v9.8M813.56 1040.2v-18.6M813.56 1678.0v18.6M857.89 1040.2v-9.8M857.89 1678.0v9.8M902.22 1040.2v-9.8M902.22 1678.0v9.8M946.55 1040.2v-18.6M946.55 1678.0v18.6M990.88 1040.2v-9.8M990.88 1678.0v9.8M1035.21 1040.2v-9.8M1035.21 1678.0v9.8M1079.54 1040.2v-18.6M1079.54 1678.0v18.6M1123.87 1040.2v-9.8M1123.87 1678.0v9.8M1168.20 1040.2v-9.8M1168.20 1678.0v9.8M1212.53 1040.2v-18.6M1212.53 1678.0v18.6M1256.86 1040.2v-9.8M1256.86 1678.0v9.8M1301.19 1040.2v-9.8M1301.19 1678.0v9.8M1345.52 1040.2v-18.6M1345.52 1678.0v18.6M1389.85 1040.2v-9.8M1389.85 1678.0v9.8M1434.18 1040.2v-9.8M1434.18 1678.0v9.8M1478.51 1040.2v-18.6M1478.51 1678.0v18.6M1522.84 1040.2v-9.8M1522.84 1678.0v9.8M1567.17 1040.2v-9.8M1567.17 1678.0v9.8M1611.50 1040.2v-18.6M1611.50 1678.0v18.6M1655.83 1040.2v-9.8M1655.83 1678.0v9.8M1700.16 1040.2v-9.8M1700.16 1678.0v9.8M1744.49 1040.2v-18.6M1744.49 1678.0v18.6M1788.82 1040.2v-9.8M1788.82 1678.0v9.8M1833.15 1040.2v-9.8M1833.15 1678.0v9.8M1877.48 1040.2v-18.6M1877.48 1678.0v18.6M250.0 1093.60h-19M1907.0 1093.60h19M250.0 1200.30h-19M1907.0 1200.30h19M250.0 1307.00h-19M1907.0 1307.00h19M250.0 1413.70h-19M1907.0 1413.70h19M250.0 1520.40h-19M1907.0 1520.40h19M250.0 1627.10h-19M1907.0 1627.10h19" stroke="#000" stroke-width="2.6" fill="none"/>
<rect x="250.0" y="1040.2" width="1657.0" height="637.8" fill="none" stroke="#000" stroke-width="6.0"/>
<text class="b" transform="translate(281.30 1744.60) scale(1 1.03)" font-size="42.9" text-anchor="middle">0</text>
<text class="b" transform="translate(414.29 1744.60) scale(1 1.03)" font-size="42.9" text-anchor="middle">6</text>
<text class="b" transform="translate(547.28 1744.60) scale(1 1.03)" font-size="42.9" text-anchor="middle">12</text>
<text class="b" transform="translate(680.27 1744.60) scale(1 1.03)" font-size="42.9" text-anchor="middle">18</text>
<text class="b" transform="translate(813.26 1744.60) scale(1 1.03)" font-size="42.9" text-anchor="middle">24</text>
<text class="b" transform="translate(946.25 1744.60) scale(1 1.03)" font-size="42.9" text-anchor="middle">30</text>
<text class="b" transform="translate(1079.24 1744.60) scale(1 1.03)" font-size="42.9" text-anchor="middle">36</text>
<text class="b" transform="translate(1212.23 1744.60) scale(1 1.03)" font-size="42.9" text-anchor="middle">42</text>
<text class="b" transform="translate(1345.22 1744.60) scale(1 1.03)" font-size="42.9" text-anchor="middle">48</text>
<text class="b" transform="translate(1478.21 1744.60) scale(1 1.03)" font-size="42.9" text-anchor="middle">54</text>
<text class="b" transform="translate(1611.20 1744.60) scale(1 1.03)" font-size="42.9" text-anchor="middle">60</text>
<text class="b" transform="translate(1744.19 1744.60) scale(1 1.03)" font-size="42.9" text-anchor="middle">66</text>
<text class="b" transform="translate(1877.18 1744.60) scale(1 1.03)" font-size="42.9" text-anchor="middle">72</text>
<text class="b" transform="translate(214.40 1109.50) scale(1 1.03)" font-size="42.9" text-anchor="end">40</text>
<text class="b" transform="translate(214.40 1216.20) scale(1 1.03)" font-size="42.9" text-anchor="end">20</text>
<text class="b" transform="translate(214.40 1322.90) scale(1 1.03)" font-size="42.9" text-anchor="end">0</text>
<text class="b" transform="translate(214.40 1429.60) scale(1 1.03)" font-size="42.9" text-anchor="end">−20</text>
<text class="b" transform="translate(214.40 1536.30) scale(1 1.03)" font-size="42.9" text-anchor="end">−40</text>
<text class="b" transform="translate(214.40 1643.00) scale(1 1.03)" font-size="42.9" text-anchor="end">−60</text>
<text transform="translate(114.10 1359.10) rotate(-90) scale(1 1.015)" font-size="42.5" text-anchor="middle">North (mm)</text>
<clipPath id="c2"><rect x="250.0" y="1855.8" width="1657.0" height="638.2"/></clipPath>
<path clip-path="url(#c2)" d="M288.9 2000.7h.01M281.2 2185.9h.01M285.8 2189.1h.01M294.9 2165.9h.01M290.1 2170.7h.01M296.1 2180.5h.01M307.7 2178.0h.01M292.7 2148.0h.01M297.9 2119.9h.01M302.2 2125.6h.01M300.1 2106.5h.01M305.6 2096.7h.01M318.9 2200.8h.01M320.6 2214.1h.01M315.1 2235.3h.01M310.4 2237.3h.01M316.8 2256.3h.01M313.0 2283.1h.01M309.4 2309.3h.01M321.1 2103.6h.01M325.4 2103.3h.01M327.6 2132.0h.01M333.5 2144.6h.01M325.4 2151.8h.01M329.7 2154.9h.01M340.9 2154.4h.01M331.4 2178.8h.01M335.2 2078.1h.01M342.6 2067.5h.01M338.7 2111.3h.01M336.9 2123.4h.01M346.4 2089.8h.01M344.3 2095.3h.01M348.3 2233.2h.01M351.7 2315.8h.01M349.8 2184.0h.01M354.7 2167.3h.01M357.6 2173.8h.01M361.0 2090.2h.01M372.2 2083.3h.01M362.8 2115.6h.01M358.6 2125.6h.01M368.4 2123.4h.01M366.7 2132.0h.01M370.2 2143.5h.01M364.5 2153.9h.01M375.7 2201.7h.01M373.9 2208.6h.01M377.6 2241.3h.01M381.3 2132.0h.01M386.5 2113.1h.01M394.3 2112.7h.01M379.3 2173.3h.01M383.9 2170.7h.01M386.2 2176.7h.01M388.7 2186.2h.01M390.5 2194.0h.01M396.3 2162.6h.01M398.0 2172.4h.01M392.2 2241.3h.01M399.8 2252.8h.01M401.5 2265.4h.01M403.2 2203.4h.01M408.9 2208.2h.01M405.1 2216.3h.01M411.1 2215.5h.01M412.7 2224.9h.01M407.2 2237.0h.01M416.1 2274.3h.01M414.4 2160.4h.01M418.3 2164.7h.01M420.4 2144.9h.01M423.5 2210.0h.01M421.8 2230.4h.01M426.1 2229.2h.01M427.5 2253.9h.01M429.5 2058.5h.01M433.3 2106.5h.01M431.3 2117.4h.01M442.4 2143.2h.01M436.4 2151.8h.01M439.0 2156.6h.01M440.7 2159.9h.01M435.0 2178.5h.01M444.2 2194.0h.01M445.5 2228.7h.01M447.6 2247.7h.01M455.4 2247.3h.01M451.9 2266.2h.01M449.3 2273.1h.01M453.3 2289.8h.01M456.7 2299.0h.01M457.1 2227.5h.01M463.4 2189.7h.01M470.0 2183.6h.01M466.0 2195.7h.01M473.8 2197.1h.01M461.4 2245.2h.01M463.1 2278.3h.01M468.3 2154.0h.01M471.7 2213.2h.01M474.6 2221.5h.01M478.9 2227.5h.01M477.2 2249.9h.01M481.2 2279.5h.01M484.1 2304.1h.01M490.6 2303.6h.01M482.4 2315.3h.01M486.7 2320.8h.01M493.6 2162.1h.01M488.4 2240.8h.01M499.6 2245.9h.01M495.6 2265.9h.01M492.2 2275.7h.01M501.7 2276.6h.01M497.9 2210.8h.01M503.0 2214.6h.01M505.1 2233.5h.01M509.9 2150.1h.01M515.1 2148.3h.01M506.5 2183.6h.01M509.1 2181.6h.01M515.9 2190.5h.01M517.7 2237.8h.01M519.7 2256.4h.01M523.2 2218.4h.01M521.1 2223.2h.01M525.4 2223.7h.01M527.1 2271.1h.01M529.2 2302.0h.01M534.5 2319.9h.01M532.6 2344.6h.01M530.6 2382.4h.01M540.4 2123.4h.01M538.0 2185.9h.01M541.8 2189.7h.01M546.1 2184.5h.01M547.8 2188.8h.01M536.2 2235.3h.01M543.8 2305.0h.01M551.2 2137.5h.01M553.3 2203.1h.01M549.2 2233.0h.01M556.7 2090.7h.01M559.8 2105.3h.01M554.7 2113.4h.01M564.1 2194.3h.01M565.9 2226.7h.01M569.6 2051.1h.01M572.7 2107.6h.01M577.6 2108.8h.01M567.9 2119.4h.01M578.8 2091.2h.01M584.4 2099.0h.01M575.3 2135.4h.01M582.7 2142.8h.01M580.0 2151.3h.01M588.2 2155.6h.01M571.4 2175.0h.01M586.5 2180.2h.01M589.9 2192.6h.01M592.0 2208.1h.01M598.9 2081.6h.01M594.3 2089.8h.01M597.2 2103.3h.01M608.4 2087.6h.01M602.5 2126.5h.01M606.3 2144.9h.01M612.7 2141.8h.01M601.1 2163.0h.01M604.6 2173.0h.01M613.7 2166.4h.01M610.3 2046.8h.01M615.8 2009.8h.01M620.1 2012.9h.01M617.8 2028.7h.01M621.3 2099.3h.01M623.2 2197.4h.01M627.0 2226.1h.01M624.9 2261.1h.01M628.7 2054.5h.01M636.1 2031.3h.01M641.9 2014.1h.01M643.3 2043.4h.01M634.4 2079.2h.01M645.0 2078.6h.01M639.9 2085.5h.01M632.1 2089.8h.01M630.4 2144.9h.01M638.1 2143.2h.01M649.3 2156.4h.01M650.2 2093.3h.01M655.4 2098.4h.01M652.8 2107.0h.01M656.2 2049.4h.01M654.5 2277.4h.01M669.5 2044.2h.01M673.4 2042.2h.01M675.1 2053.3h.01M663.4 2085.9h.01M667.7 2117.4h.01M660.9 2131.1h.01M661.7 2145.4h.01M671.2 2169.0h.01M666.0 2179.8h.01M676.9 2180.7h.01M684.1 2194.8h.01M691.0 2196.5h.01M695.3 2189.3h.01M697.0 2196.5h.01M704.8 2191.4h.01M680.7 2217.2h.01M678.1 2231.0h.01M682.4 2229.8h.01M687.5 2252.5h.01M690.1 2256.4h.01M685.8 2271.8h.01M693.2 2322.2h.01M706.5 2111.7h.01M711.6 2202.6h.01M717.7 2205.5h.01M709.9 2210.8h.01M698.7 2232.3h.01M707.8 2238.7h.01M715.1 2240.8h.01M719.4 2234.1h.01M702.5 2255.9h.01M713.7 2273.1h.01M720.6 2314.4h.01M728.0 2305.0h.01M730.6 2308.4h.01M737.8 2294.6h.01M722.8 2332.5h.01M735.7 2334.8h.01M724.9 2359.7h.01M726.3 2368.7h.01M732.3 2370.4h.01M743.5 2103.1h.01M741.4 2117.7h.01M739.5 2137.2h.01M746.9 2147.1h.01M745.2 2175.5h.01M748.6 2183.3h.01M750.7 2218.4h.01M752.4 2225.5h.01M758.1 2051.6h.01M753.8 2079.5h.01M759.8 2078.3h.01M761.5 2099.3h.01M755.9 2122.5h.01M763.3 2126.8h.01M765.0 2161.3h.01M769.3 2159.2h.01M767.6 2172.4h.01M771.9 2176.7h.01M774.5 2179.3h.01M778.8 2173.0h.01M776.7 2078.3h.01M772.7 2107.9h.01M782.2 2110.5h.01M787.4 2102.2h.01M793.4 2109.6h.01M795.1 2115.3h.01M783.9 2128.6h.01M780.0 2138.4h.01M789.4 2158.2h.01M791.3 2185.4h.01M797.7 2216.3h.01M802.3 2249.0h.01M809.7 2259.7h.01M805.8 2266.2h.01M808.0 2298.1h.01M804.1 2308.9h.01M800.3 2339.4h.01M811.5 2219.8h.01M813.5 2160.9h.01M815.4 2179.3h.01M816.6 2137.7h.01M820.9 2113.9h.01M822.7 2213.4h.01M826.4 2219.4h.01M824.7 2259.7h.01M818.9 2312.7h.01M830.4 2125.1h.01M828.2 2137.2h.01M837.3 2132.9h.01M835.6 2084.7h.01M831.8 2090.3h.01M845.0 2167.3h.01M839.0 2182.3h.01M846.7 2181.0h.01M851.9 2186.2h.01M840.7 2190.5h.01M843.0 2218.1h.01M850.2 2222.4h.01M848.5 2249.4h.01M854.0 2069.7h.01M856.2 2129.4h.01M865.2 2156.6h.01M863.4 2170.4h.01M860.9 2205.1h.01M871.2 2199.1h.01M883.2 2197.4h.01M879.8 2180.2h.01M892.7 2179.8h.01M898.2 2188.8h.01M894.8 2145.8h.01M896.5 2154.7h.01M902.2 2209.4h.01M891.0 2214.3h.01M874.6 2228.0h.01M887.5 2228.9h.01M868.6 2241.3h.01M876.4 2244.4h.01M881.5 2240.1h.01M899.9 2242.2h.01M866.9 2263.7h.01M885.8 2274.0h.01M889.3 2271.8h.01M903.9 2268.3h.01M909.6 2058.5h.01M907.7 2078.1h.01M918.9 2088.5h.01M920.6 2099.3h.01M916.8 2103.1h.01M922.5 2124.8h.01M913.0 2132.9h.01M911.1 2142.7h.01M924.2 2143.2h.01M926.3 2151.3h.01M915.1 2175.9h.01M928.0 2176.7h.01M931.4 2180.2h.01M929.7 2197.4h.01M935.2 2210.3h.01M933.5 2232.7h.01M940.9 2099.8h.01M936.9 2105.0h.01M943.0 2124.3h.01M939.2 2142.3h.01M952.1 2138.9h.01M957.6 2151.8h.01M948.3 2159.5h.01M955.5 2164.4h.01M946.6 2173.6h.01M944.7 2182.4h.01M950.0 2202.0h.01M953.8 2240.4h.01M959.8 2060.6h.01M968.4 2061.1h.01M964.5 2071.4h.01M974.1 2070.9h.01M970.2 2021.3h.01M977.9 2022.4h.01M972.2 2091.5h.01M966.7 2113.4h.01M976.2 2115.6h.01M981.7 2124.8h.01M979.6 2155.2h.01M985.1 2173.3h.01M986.9 2205.1h.01M992.5 2200.8h.01M997.7 2204.3h.01M1002.0 2207.4h.01M998.6 2210.8h.01M994.6 2226.3h.01M983.4 2243.9h.01M989.1 2248.7h.01M999.8 2158.7h.01M1007.5 2234.1h.01M1011.5 2238.7h.01M1003.7 2243.0h.01M1005.4 2254.5h.01M1009.2 2126.0h.01M1012.7 2134.6h.01M1014.4 2166.9h.01M1016.6 2269.2h.01M1018.7 2293.3h.01M1020.4 2307.6h.01M1024.0 2020.5h.01M1022.1 2203.4h.01M1025.7 2175.4h.01M1027.8 2181.9h.01M1029.9 2160.9h.01M1031.3 2219.4h.01M1033.8 2205.1h.01M1035.6 2207.4h.01M1038.1 2147.5h.01M1036.4 2149.7h.01M1040.4 2099.0h.01M1046.4 2160.9h.01M1044.2 2169.9h.01M1042.4 2190.2h.01M1051.6 2181.6h.01M1054.5 2187.9h.01M1056.2 2190.5h.01M1049.8 2255.1h.01M1048.1 2264.9h.01M1056.7 2291.7h.01M1065.2 2278.6h.01M1059.1 2305.0h.01M1063.1 2310.7h.01M1060.9 2369.2h.01M1068.3 2101.9h.01M1071.7 2146.6h.01M1083.2 2145.8h.01M1073.8 2178.1h.01M1081.2 2181.6h.01M1088.4 2173.3h.01M1079.3 2196.0h.01M1070.3 2237.0h.01M1078.1 2242.2h.01M1066.9 2252.1h.01M1085.8 2111.0h.01M1084.1 2115.1h.01M1092.2 2118.2h.01M1097.9 2104.1h.01M1099.6 2132.0h.01M1096.1 2137.2h.01M1093.6 2140.6h.01M1101.7 2150.1h.01M1103.0 2186.2h.01M1104.8 2167.8h.01M1109.1 2080.4h.01M1110.8 2091.9h.01M1123.7 2090.7h.01M1114.2 2119.1h.01M1119.9 2123.7h.01M1125.4 2111.3h.01M1131.4 2108.8h.01M1118.5 2154.0h.01M1112.5 2159.5h.01M1106.5 2163.8h.01M1115.9 2173.0h.01M1121.6 2191.0h.01M1127.1 2038.7h.01M1129.4 2064.0h.01M1132.6 2141.5h.01M1134.9 2184.0h.01M1136.6 2196.0h.01M1138.3 2222.4h.01M1140.4 2233.5h.01M1142.1 2238.7h.01M1145.7 2091.0h.01M1151.2 2106.7h.01M1147.8 2130.3h.01M1143.5 2135.4h.01M1149.5 2152.1h.01M1153.8 2162.6h.01M1160.7 2156.1h.01M1155.2 2169.9h.01M1156.7 2214.6h.01M1166.2 2016.3h.01M1164.1 2078.6h.01M1162.1 2098.4h.01M1170.2 2099.3h.01M1171.9 2091.5h.01M1159.0 2131.7h.01M1167.6 2136.3h.01M1173.9 2129.1h.01M1174.5 2144.4h.01M1181.3 2142.7h.01M1177.0 2049.4h.01M1186.5 2061.8h.01M1179.1 2083.5h.01M1192.0 2081.7h.01M1184.4 2099.0h.01M1182.2 2107.6h.01M1188.6 2106.2h.01M1190.3 2116.9h.01M1197.7 2133.2h.01M1193.4 2153.5h.01M1199.9 2151.8h.01M1203.4 2091.2h.01M1201.5 2100.7h.01M1195.5 2213.8h.01M1204.6 2218.9h.01M1221.4 2122.2h.01M1236.8 2149.7h.01M1227.0 2154.0h.01M1223.2 2164.7h.01M1225.2 2174.2h.01M1232.6 2182.3h.01M1220.1 2208.2h.01M1215.8 2213.8h.01M1214.0 2222.4h.01M1212.3 2229.8h.01M1230.4 2218.9h.01M1240.2 2218.1h.01M1238.1 2222.9h.01M1218.0 2240.4h.01M1229.2 2239.1h.01M1208.5 2245.6h.01M1206.3 2260.7h.01M1210.9 2261.6h.01M1241.9 2246.8h.01M1249.3 2264.9h.01M1251.0 2286.6h.01M1256.2 2285.2h.01M1247.3 2296.4h.01M1234.4 2309.6h.01M1245.4 2307.9h.01M1257.1 2310.7h.01M1254.5 2349.4h.01M1243.6 2365.2h.01M1263.4 2366.4h.01M1269.5 2329.1h.01M1267.7 2181.4h.01M1271.2 2134.2h.01M1273.8 2140.3h.01M1282.4 2115.3h.01M1276.7 2077.3h.01M1278.9 2082.1h.01M1284.4 2090.3h.01M1275.0 2049.0h.01M1285.8 2049.4h.01M1297.3 2049.7h.01M1280.7 2017.5h.01M1287.5 2023.6h.01M1295.8 2023.2h.01M1289.8 2009.4h.01M1302.7 1998.3h.01M1317.7 1999.1h.01M1299.2 2065.2h.01M1300.8 2077.8h.01M1326.6 2050.8h.01M1330.2 2083.5h.01M1332.3 2091.5h.01M1339.5 2158.2h.01M1334.0 2164.2h.01M1343.5 2174.2h.01M1341.2 2181.6h.01M1335.7 2196.5h.01M1337.8 2214.3h.01M1356.4 2187.4h.01M1350.7 2021.8h.01M1348.6 2036.0h.01M1344.9 2044.6h.01M1360.2 2039.9h.01M1354.3 2051.4h.01M1361.9 2002.9h.01M1367.6 2021.5h.01M1358.1 2109.1h.01M1352.9 2121.7h.01M1363.3 2083.8h.01M1369.3 2084.1h.01M1373.1 2070.9h.01M1378.8 2080.0h.01M1383.9 1999.0h.01M1386.0 2036.8h.01M1389.4 2086.4h.01M1395.1 2095.3h.01M1382.2 2108.2h.01M1391.7 2113.6h.01M1376.7 2118.7h.01M1374.8 2142.8h.01M1387.7 2143.2h.01M1393.0 2136.3h.01M1402.5 2130.6h.01M1370.7 2162.1h.01M1380.5 2163.8h.01M1397.2 2176.7h.01M1400.8 2191.7h.01M1398.9 2201.7h.01M1413.5 2220.6h.01M1404.2 2243.9h.01M1410.1 2256.8h.01M1406.3 2268.8h.01M1419.2 2265.9h.01M1407.7 2280.5h.01M1417.0 2282.6h.01M1424.7 2177.3h.01M1432.1 2216.9h.01M1422.7 2234.4h.01M1420.6 2239.2h.01M1430.9 2234.4h.01M1433.8 2271.4h.01M1428.7 2279.2h.01M1426.4 2287.8h.01M1441.6 2257.6h.01M1445.0 2269.7h.01M1443.3 2280.9h.01M1439.5 2308.9h.01M1435.9 2334.8h.01M1437.8 2353.2h.01M1450.2 2080.9h.01M1452.3 2142.0h.01M1448.8 2160.1h.01M1446.7 2227.5h.01M1453.6 2231.0h.01M1455.4 2214.3h.01M1457.1 2290.3h.01M1463.1 2229.6h.01M1469.0 2229.8h.01M1466.9 2238.7h.01M1463.8 2251.6h.01M1470.8 2161.6h.01M1480.3 2178.1h.01M1474.6 2206.0h.01M1472.0 2212.0h.01M1478.9 2218.9h.01M1485.8 2219.8h.01M1490.1 2217.2h.01M1497.0 2213.2h.01M1483.8 2277.1h.01M1476.4 2287.4h.01M1485.5 2307.0h.01M1502.2 2054.5h.01M1497.9 2057.6h.01M1494.9 2083.5h.01M1507.8 2093.8h.01M1499.9 2108.8h.01M1506.1 2110.5h.01M1491.0 2148.3h.01M1493.6 2150.9h.01M1489.3 2161.8h.01M1511.3 2172.4h.01M1509.6 2229.8h.01M1515.1 2266.2h.01M1517.1 2273.5h.01M1518.9 2290.3h.01M1513.0 2293.8h.01M1520.6 2154.4h.01M1522.8 2159.5h.01M1530.2 2162.1h.01M1539.2 2167.3h.01M1535.2 2191.0h.01M1544.7 2185.4h.01M1525.9 2213.2h.01M1532.3 2215.5h.01M1537.5 2218.9h.01M1524.2 2224.1h.01M1528.3 2243.9h.01M1540.9 2109.1h.01M1543.0 2154.9h.01M1555.9 2143.2h.01M1554.1 2152.7h.01M1557.6 2160.4h.01M1548.6 2214.3h.01M1546.6 2273.1h.01M1550.4 2285.2h.01M1552.4 2292.1h.01M1561.5 2321.0h.01M1559.5 2204.6h.01M1563.3 2218.1h.01M1565.0 2189.1h.01M1569.3 2191.4h.01M1570.7 2174.2h.01M1572.7 2136.3h.01M1567.1 2116.5h.01M1574.5 2110.5h.01M1577.9 2155.6h.01M1575.3 2198.3h.01M1585.6 2195.7h.01M1581.7 2206.9h.01M1583.4 2229.2h.01M1580.0 2305.3h.01M1590.8 2250.4h.01M1599.4 2255.1h.01M1601.1 2260.2h.01M1589.1 2263.7h.01M1592.5 2283.5h.01M1586.9 2294.3h.01M1596.8 2292.4h.01M1594.8 2352.0h.01M1602.0 2232.7h.01M1614.9 2228.9h.01M1613.2 2267.5h.01M1606.3 2280.9h.01M1609.7 2280.0h.01M1611.1 2304.1h.01M1605.8 2317.9h.01M1603.7 2338.9h.01M1626.1 2076.6h.01M1621.8 2085.9h.01M1635.2 2094.1h.01M1620.4 2133.7h.01M1618.3 2143.7h.01M1616.6 2171.9h.01M1632.6 2153.5h.01M1639.0 2142.7h.01M1643.0 2153.5h.01M1631.6 2169.0h.01M1629.5 2178.1h.01M1627.8 2193.1h.01M1637.3 2203.9h.01M1644.5 2122.5h.01M1654.0 2168.1h.01M1650.2 2175.0h.01M1648.1 2190.9h.01M1651.9 2205.1h.01M1646.2 2214.3h.01M1655.4 2155.2h.01M1657.1 2120.8h.01M1659.5 2066.2h.01M1664.8 2152.7h.01M1668.6 2163.8h.01M1666.9 2179.3h.01M1670.3 2208.2h.01M1662.6 2263.1h.01M1672.4 2262.3h.01M1679.4 2085.5h.01M1677.2 2103.1h.01M1685.5 2104.5h.01M1675.5 2116.5h.01M1683.2 2119.9h.01M1674.1 2130.3h.01M1681.5 2134.6h.01M1690.6 2146.3h.01M1688.7 2208.6h.01M1687.0 2247.3h.01M1694.4 2019.3h.01M1692.7 2050.2h.01M1696.1 2112.5h.01M1701.3 2127.2h.01M1707.3 2124.3h.01M1711.6 2125.1h.01M1705.3 2135.4h.01M1699.2 2169.9h.01M1709.4 2165.6h.01M1703.0 2175.0h.01M1698.2 2274.0h.01M1714.7 2051.1h.01M1718.5 2068.7h.01M1716.5 2106.2h.01M1719.9 2148.3h.01M1728.0 2149.7h.01M1722.3 2173.3h.01M1712.8 2184.0h.01M1723.7 2270.6h.01M1731.4 2050.2h.01M1733.5 2060.6h.01M1735.2 2113.9h.01M1738.7 2199.1h.01M1740.9 2203.9h.01M1749.5 2212.9h.01M1741.8 2225.8h.01M1746.6 2228.4h.01M1736.6 2249.4h.01M1744.3 2260.6h.01M1747.8 2273.6h.01M1751.7 2141.5h.01M1753.5 2151.8h.01M1755.5 2158.3h.01M1763.3 2157.3h.01M1770.2 2165.9h.01M1756.9 2044.2h.01M1768.4 2044.6h.01M1766.4 2095.0h.01M1764.5 2213.8h.01M1760.7 2256.4h.01M1777.4 2181.9h.01M1773.6 2189.3h.01M1771.9 2202.2h.01M1784.8 2210.8h.01M1782.7 2219.8h.01M1775.7 2240.8h.01M1786.5 2251.3h.01M1789.1 2253.3h.01M1779.3 2272.3h.01M1781.3 2281.2h.01M1797.2 2324.8h.01M1792.0 2330.8h.01M1805.4 2118.2h.01M1806.8 2137.7h.01M1801.5 2152.1h.01M1802.9 2184.5h.01M1808.9 2181.9h.01M1814.4 2202.2h.01M1812.7 2252.8h.01M1810.9 2262.3h.01M1799.8 2268.3h.01M1816.3 2044.2h.01M1818.3 2064.4h.01M1827.3 2092.1h.01M1830.7 2099.6h.01M1829.5 2108.8h.01M1823.2 2113.1h.01M1833.8 2112.2h.01M1825.6 2130.3h.01M1835.0 2153.5h.01M1838.5 2163.5h.01M1842.4 2117.9h.01M1844.2 2123.4h.01M1836.4 2139.7h.01M1840.2 2138.9h.01M1846.4 2135.4h.01M1853.3 2140.9h.01M1847.6 2216.7h.01M1855.0 2216.3h.01M1849.3 2234.4h.01M1851.0 2269.7h.01M1857.1 2281.4h.01M1856.2 2294.6h.01M1873.2 2187.6h.01M1871.8 2234.9h.01M1862.0 2243.0h.01M1870.1 2286.9h.01M1867.9 2294.6h.01M1864.1 2327.9h.01M1860.3 2339.9h.01M1865.8 2346.3h.01M1875.3 2353.5h.01M286.9 1975.3h.01M303.5 1967.3h.01M561.9 1974.2h.01M647.0 1986.0h.01M833.2 1876.3h.01M963.2 1973.2h.01M1503.8 1988.2h.01M1724.7 1986.0h.01M1729.0 1983.3h.01M1821.6 1966.2h.01M1820.0 1985.5h.01M1306.5 1868.4h.01M1319.5 1877.3h.01M1323.3 1901.5h.01M1310.3 1904.4h.01M1314.1 1907.6h.01M1321.4 1921.0h.01M1291.8 1925.7h.01M1308.4 1944.2h.01M1328.8 1944.3h.01M1365.5 1948.4h.01M1347.3 1957.3h.01M1311.8 1961.1h.01M1315.7 1966.8h.01M1325.0 1963.6h.01M1293.5 1969.4h.01M1304.6 1978.3h.01M733.7 2395.0h.01M905.4 2393.9h.01M1252.3 2393.4h.01M1261.9 2422.8h.01M1265.7 2454.9h.01M1260.3 2473.6h.01M1415.5 2419.1h.01M1793.8 2424.9h.01M1790.0 2435.1h.01M1795.4 2480.6h.01" stroke="#0000ff" stroke-width="12.6" stroke-linecap="round" fill="none"/>
<path d="M281.60 1855.8v-18.6M281.60 2494.0v18.6M325.93 1855.8v-9.8M325.93 2494.0v9.8M370.26 1855.8v-9.8M370.26 2494.0v9.8M414.59 1855.8v-18.6M414.59 2494.0v18.6M458.92 1855.8v-9.8M458.92 2494.0v9.8M503.25 1855.8v-9.8M503.25 2494.0v9.8M547.58 1855.8v-18.6M547.58 2494.0v18.6M591.91 1855.8v-9.8M591.91 2494.0v9.8M636.24 1855.8v-9.8M636.24 2494.0v9.8M680.57 1855.8v-18.6M680.57 2494.0v18.6M724.90 1855.8v-9.8M724.90 2494.0v9.8M769.23 1855.8v-9.8M769.23 2494.0v9.8M813.56 1855.8v-18.6M813.56 2494.0v18.6M857.89 1855.8v-9.8M857.89 2494.0v9.8M902.22 1855.8v-9.8M902.22 2494.0v9.8M946.55 1855.8v-18.6M946.55 2494.0v18.6M990.88 1855.8v-9.8M990.88 2494.0v9.8M1035.21 1855.8v-9.8M1035.21 2494.0v9.8M1079.54 1855.8v-18.6M1079.54 2494.0v18.6M1123.87 1855.8v-9.8M1123.87 2494.0v9.8M1168.20 1855.8v-9.8M1168.20 2494.0v9.8M1212.53 1855.8v-18.6M1212.53 2494.0v18.6M1256.86 1855.8v-9.8M1256.86 2494.0v9.8M1301.19 1855.8v-9.8M1301.19 2494.0v9.8M1345.52 1855.8v-18.6M1345.52 2494.0v18.6M1389.85 1855.8v-9.8M1389.85 2494.0v9.8M1434.18 1855.8v-9.8M1434.18 2494.0v9.8M1478.51 1855.8v-18.6M1478.51 2494.0v18.6M1522.84 1855.8v-9.8M1522.84 2494.0v9.8M1567.17 1855.8v-9.8M1567.17 2494.0v9.8M1611.50 1855.8v-18.6M1611.50 2494.0v18.6M1655.83 1855.8v-9.8M1655.83 2494.0v9.8M1700.16 1855.8v-9.8M1700.16 2494.0v9.8M1744.49 1855.8v-18.6M1744.49 2494.0v18.6M1788.82 1855.8v-9.8M1788.82 2494.0v9.8M1833.15 1855.8v-9.8M1833.15 2494.0v9.8M1877.48 1855.8v-18.6M1877.48 2494.0v18.6M250.0 1924.85h-19M1907.0 1924.85h19M250.0 2055.77h-19M1907.0 2055.77h19M250.0 2186.70h-19M1907.0 2186.70h19M250.0 2317.62h-19M1907.0 2317.62h19M250.0 2448.55h-19M1907.0 2448.55h19" stroke="#000" stroke-width="2.6" fill="none"/>
<rect x="250.0" y="1855.8" width="1657.0" height="638.2" fill="none" stroke="#000" stroke-width="6.0"/>
<text class="b" transform="translate(281.30 2560.60) scale(1 1.03)" font-size="42.9" text-anchor="middle">0</text>
<text class="b" transform="translate(414.29 2560.60) scale(1 1.03)" font-size="42.9" text-anchor="middle">6</text>
<text class="b" transform="translate(547.28 2560.60) scale(1 1.03)" font-size="42.9" text-anchor="middle">12</text>
<text class="b" transform="translate(680.27 2560.60) scale(1 1.03)" font-size="42.9" text-anchor="middle">18</text>
<text class="b" transform="translate(813.26 2560.60) scale(1 1.03)" font-size="42.9" text-anchor="middle">24</text>
<text class="b" transform="translate(946.25 2560.60) scale(1 1.03)" font-size="42.9" text-anchor="middle">30</text>
<text class="b" transform="translate(1079.24 2560.60) scale(1 1.03)" font-size="42.9" text-anchor="middle">36</text>
<text class="b" transform="translate(1212.23 2560.60) scale(1 1.03)" font-size="42.9" text-anchor="middle">42</text>
<text class="b" transform="translate(1345.22 2560.60) scale(1 1.03)" font-size="42.9" text-anchor="middle">48</text>
<text class="b" transform="translate(1478.21 2560.60) scale(1 1.03)" font-size="42.9" text-anchor="middle">54</text>
<text class="b" transform="translate(1611.20 2560.60) scale(1 1.03)" font-size="42.9" text-anchor="middle">60</text>
<text class="b" transform="translate(1744.19 2560.60) scale(1 1.03)" font-size="42.9" text-anchor="middle">66</text>
<text class="b" transform="translate(1877.18 2560.60) scale(1 1.03)" font-size="42.9" text-anchor="middle">72</text>
<text class="b" transform="translate(214.40 1940.75) scale(1 1.03)" font-size="42.9" text-anchor="end">100</text>
<text class="b" transform="translate(214.40 2071.67) scale(1 1.03)" font-size="42.9" text-anchor="end">50</text>
<text class="b" transform="translate(214.40 2202.60) scale(1 1.03)" font-size="42.9" text-anchor="end">0</text>
<text class="b" transform="translate(214.40 2333.53) scale(1 1.03)" font-size="42.9" text-anchor="end">−50</text>
<text class="b" transform="translate(214.40 2464.45) scale(1 1.03)" font-size="42.9" text-anchor="end">−100</text>
<text transform="translate(90.30 2174.90) rotate(-90) scale(1 1.015)" font-size="42.5" text-anchor="middle">Up (mm)</text>
<text transform="translate(1077.70 2619.20) scale(1 1.015)" font-size="42.5" text-anchor="middle">Time (hours since beginning of first day UTC)</text>
<rect x="250" y="2723" width="1657" height="153" fill="none" stroke="#000" stroke-width="6.0"/>
<text class="b" transform="translate(1079.60 2761.70) scale(1 1.02)" font-size="42.53" text-anchor="middle">Processed Using JPL Rapid Orbits</text>
<text class="b" transform="translate(1078.70 2802.00) scale(1 1.02)" font-size="42.53" text-anchor="middle">by the Nevada Geodetic Laboratory.</text>
<text class="b" transform="translate(1079.00 2842.60) scale(1 1.02)" font-size="42.53" text-anchor="middle">Plotted on 2026-Jan-11.</text>
</svg>
</body></html>
